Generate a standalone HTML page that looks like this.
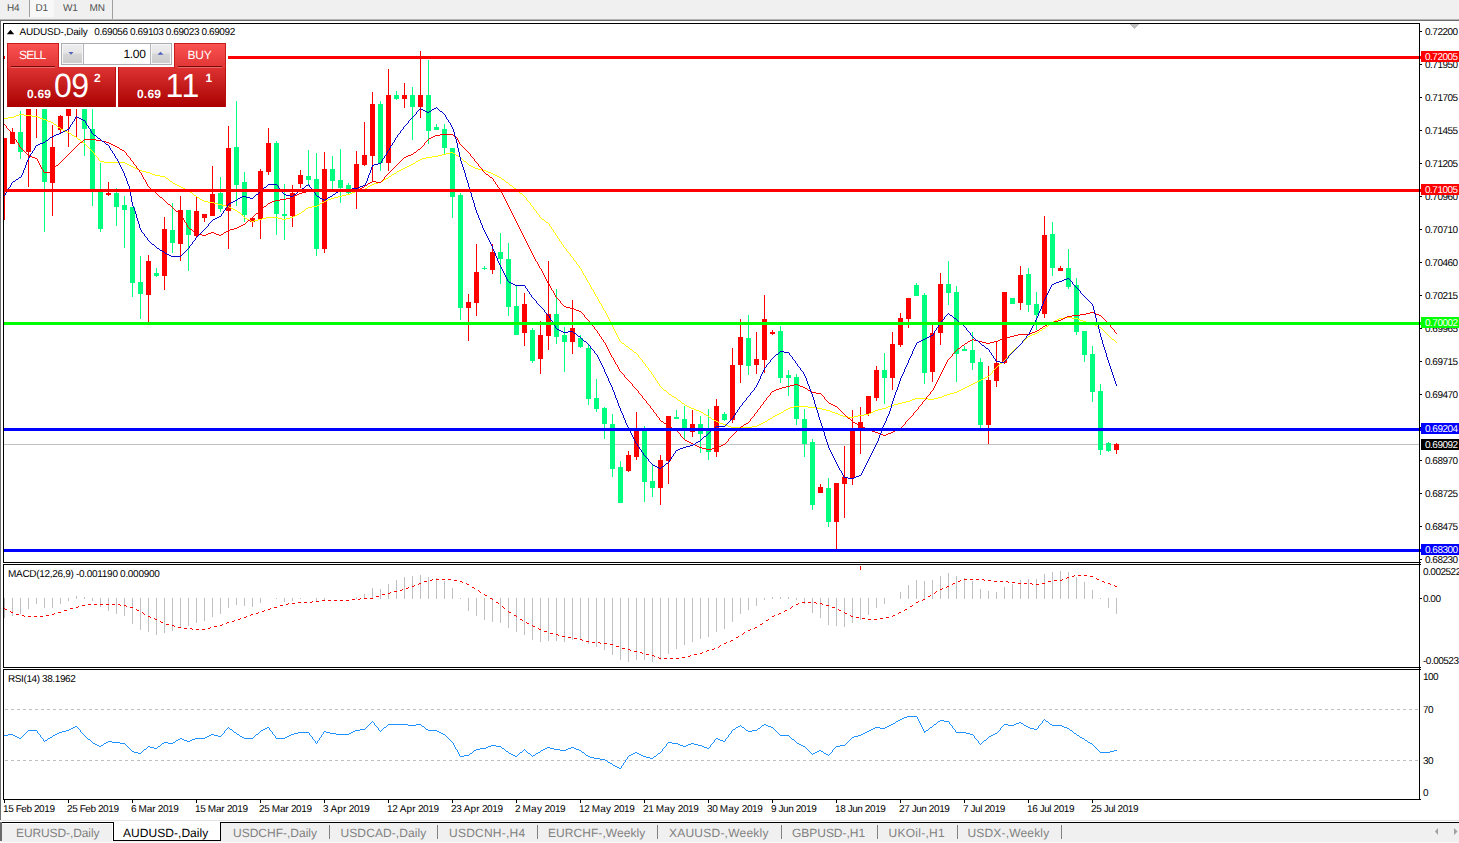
<!DOCTYPE html>
<html><head><meta charset="utf-8"><title>AUDUSD-,Daily</title>
<style>
html,body{margin:0;padding:0;background:#fff;}
body{width:1459px;height:843px;position:relative;overflow:hidden;font-family:"Liberation Sans",sans-serif;}
.t{position:absolute;white-space:nowrap;font-family:"Liberation Sans",sans-serif;text-rendering:geometricPrecision;}
#tp .pr{position:absolute;background:linear-gradient(#df3333,#c01818 55%,#ac0000);box-shadow:inset 1px 0 0 #b81010,inset -1px 0 0 #b81010;}
#tp .bt{position:absolute;background:linear-gradient(#fb5252,#e13535);box-shadow:inset 1px 0 0 #c61c1c,inset -1px 0 0 #c61c1c,inset 0 1px 0 #c61c1c;}
#tp .ul{position:absolute;height:1px;background:#7a0808;box-shadow:0 1px 0 #e86a6a;}
#tp .sp{position:absolute;background:linear-gradient(#eeeeee,#e6e6e6 45%,#d6d6d6 50%,#cccccc);box-shadow:inset 0 0 0 1px #f6f6f6;}
#tp .big{font-size:32px;line-height:40px;color:#fff;letter-spacing:-0.5px;transform:scaleY(1.05);transform-origin:50% 60%;}
</style></head>
<body>
<div style="position:absolute;left:0;top:0;width:1459px;height:19px;background:#f0f0f0"></div><div style="position:absolute;left:0;top:19px;width:1459px;height:1px;background:#b4b4b4"></div><div style="position:absolute;left:0;top:20px;width:1459px;height:1px;background:#6e6e6e"></div><div style="position:absolute;left:0;top:20px;width:1px;height:801px;background:#6e6e6e"></div><div style="position:absolute;left:30px;top:0;width:24px;height:17px;background:#f8f8f8"></div><div style="position:absolute;left:29px;top:0;width:1px;height:17px;background:#a0a0a0"></div><div style="position:absolute;left:112px;top:0;width:1px;height:19px;background:#a0a0a0"></div><div class="t" style="left:7px;top:3.5px;font-size:10px;line-height:10px;color:#505050;letter-spacing:-0.2px">H4</div><div class="t" style="left:35.5px;top:3.5px;font-size:10px;line-height:10px;color:#505050;letter-spacing:-0.2px">D1</div><div class="t" style="left:63px;top:3.5px;font-size:10px;line-height:10px;color:#505050;letter-spacing:-0.2px">W1</div><div class="t" style="left:89.5px;top:3.5px;font-size:10px;line-height:10px;color:#505050;letter-spacing:-0.2px">MN</div>
<svg width="1459" height="843" style="position:absolute;left:0;top:0" shape-rendering="crispEdges">
<defs><clipPath id="cm"><rect x="4" y="24" width="1415" height="538"/></clipPath></defs>
<rect x="4" y="444" width="1415" height="1" fill="#c0c0c0"/>
<g clip-path="url(#cm)">
<rect x="4" y="138" width="1" height="82" fill="#ff0000"/>
<rect x="2" y="138" width="5" height="53" fill="#ff0000"/>
<rect x="12" y="128" width="1" height="16" fill="#ff0000"/>
<rect x="10" y="132" width="5" height="12" fill="#ff0000"/>
<rect x="20" y="111" width="1" height="48" fill="#00ff7f"/>
<rect x="18" y="132" width="5" height="20" fill="#00ff7f"/>
<rect x="28" y="100" width="1" height="87" fill="#ff0000"/>
<rect x="26" y="100" width="5" height="52" fill="#ff0000"/>
<rect x="36" y="96" width="1" height="42" fill="#ff0000"/>
<rect x="34" y="96" width="5" height="10" fill="#ff0000"/>
<rect x="44" y="100" width="1" height="132" fill="#00ff7f"/>
<rect x="42" y="100" width="5" height="82" fill="#00ff7f"/>
<rect x="52" y="125" width="1" height="91" fill="#ff0000"/>
<rect x="50" y="147" width="5" height="36" fill="#ff0000"/>
<rect x="60" y="115" width="1" height="19" fill="#ff0000"/>
<rect x="58" y="116" width="5" height="14" fill="#ff0000"/>
<rect x="68" y="100" width="1" height="47" fill="#ff0000"/>
<rect x="66" y="100" width="5" height="16" fill="#ff0000"/>
<rect x="76" y="96" width="1" height="41" fill="#ff0000"/>
<rect x="74" y="96" width="5" height="10" fill="#ff0000"/>
<rect x="84" y="100" width="1" height="56" fill="#00ff7f"/>
<rect x="82" y="100" width="5" height="29" fill="#00ff7f"/>
<rect x="92" y="100" width="1" height="106" fill="#00ff7f"/>
<rect x="90" y="129" width="5" height="60" fill="#00ff7f"/>
<rect x="100" y="163" width="1" height="69" fill="#00ff7f"/>
<rect x="98" y="192" width="5" height="37" fill="#00ff7f"/>
<rect x="108" y="182" width="1" height="14" fill="#ff0000"/>
<rect x="106" y="193" width="5" height="2" fill="#ff0000"/>
<rect x="116" y="188" width="1" height="38" fill="#00ff7f"/>
<rect x="114" y="193" width="5" height="14" fill="#00ff7f"/>
<rect x="124" y="196" width="1" height="52" fill="#00ff7f"/>
<rect x="122" y="205" width="5" height="5" fill="#00ff7f"/>
<rect x="132" y="207" width="1" height="90" fill="#00ff7f"/>
<rect x="130" y="207" width="5" height="76" fill="#00ff7f"/>
<rect x="140" y="256" width="1" height="63" fill="#00ff7f"/>
<rect x="138" y="282" width="5" height="12" fill="#00ff7f"/>
<rect x="148" y="255" width="1" height="67" fill="#ff0000"/>
<rect x="146" y="261" width="5" height="34" fill="#ff0000"/>
<rect x="156" y="268" width="1" height="9" fill="#00ff7f"/>
<rect x="154" y="273" width="5" height="3" fill="#00ff7f"/>
<rect x="164" y="217" width="1" height="73" fill="#ff0000"/>
<rect x="162" y="229" width="5" height="47" fill="#ff0000"/>
<rect x="172" y="203" width="1" height="50" fill="#00ff7f"/>
<rect x="170" y="230" width="5" height="13" fill="#00ff7f"/>
<rect x="180" y="196" width="1" height="65" fill="#ff0000"/>
<rect x="178" y="210" width="5" height="34" fill="#ff0000"/>
<rect x="188" y="210" width="1" height="61" fill="#00ff7f"/>
<rect x="186" y="210" width="5" height="25" fill="#00ff7f"/>
<rect x="196" y="196" width="1" height="42" fill="#ff0000"/>
<rect x="194" y="211" width="5" height="25" fill="#ff0000"/>
<rect x="204" y="214" width="1" height="8" fill="#ff0000"/>
<rect x="202" y="214" width="5" height="4" fill="#ff0000"/>
<rect x="212" y="166" width="1" height="50" fill="#ff0000"/>
<rect x="210" y="194" width="5" height="22" fill="#ff0000"/>
<rect x="220" y="177" width="1" height="35" fill="#00ff7f"/>
<rect x="218" y="193" width="5" height="16" fill="#00ff7f"/>
<rect x="228" y="126" width="1" height="123" fill="#ff0000"/>
<rect x="226" y="148" width="5" height="63" fill="#ff0000"/>
<rect x="236" y="101" width="1" height="105" fill="#00ff7f"/>
<rect x="234" y="147" width="5" height="38" fill="#00ff7f"/>
<rect x="244" y="172" width="1" height="50" fill="#00ff7f"/>
<rect x="242" y="182" width="5" height="33" fill="#00ff7f"/>
<rect x="252" y="217" width="1" height="10" fill="#ff0000"/>
<rect x="250" y="218" width="5" height="4" fill="#ff0000"/>
<rect x="260" y="169" width="1" height="70" fill="#ff0000"/>
<rect x="258" y="171" width="5" height="48" fill="#ff0000"/>
<rect x="268" y="128" width="1" height="47" fill="#ff0000"/>
<rect x="266" y="143" width="5" height="29" fill="#ff0000"/>
<rect x="276" y="141" width="1" height="94" fill="#00ff7f"/>
<rect x="274" y="143" width="5" height="71" fill="#00ff7f"/>
<rect x="284" y="184" width="1" height="56" fill="#00ff7f"/>
<rect x="282" y="214" width="5" height="2" fill="#00ff7f"/>
<rect x="292" y="185" width="1" height="42" fill="#ff0000"/>
<rect x="290" y="193" width="5" height="23" fill="#ff0000"/>
<rect x="300" y="170" width="1" height="18" fill="#ff0000"/>
<rect x="298" y="175" width="5" height="9" fill="#ff0000"/>
<rect x="308" y="150" width="1" height="36" fill="#00ff7f"/>
<rect x="306" y="176" width="5" height="4" fill="#00ff7f"/>
<rect x="316" y="153" width="1" height="103" fill="#00ff7f"/>
<rect x="314" y="179" width="5" height="70" fill="#00ff7f"/>
<rect x="324" y="152" width="1" height="101" fill="#ff0000"/>
<rect x="322" y="169" width="5" height="80" fill="#ff0000"/>
<rect x="332" y="156" width="1" height="34" fill="#00ff7f"/>
<rect x="330" y="169" width="5" height="12" fill="#00ff7f"/>
<rect x="340" y="149" width="1" height="54" fill="#00ff7f"/>
<rect x="338" y="180" width="5" height="8" fill="#00ff7f"/>
<rect x="348" y="183" width="1" height="11" fill="#00ff7f"/>
<rect x="346" y="185" width="5" height="8" fill="#00ff7f"/>
<rect x="356" y="151" width="1" height="58" fill="#ff0000"/>
<rect x="354" y="164" width="5" height="26" fill="#ff0000"/>
<rect x="364" y="122" width="1" height="44" fill="#ff0000"/>
<rect x="362" y="155" width="5" height="10" fill="#ff0000"/>
<rect x="372" y="92" width="1" height="89" fill="#ff0000"/>
<rect x="370" y="104" width="5" height="52" fill="#ff0000"/>
<rect x="380" y="101" width="1" height="70" fill="#00ff7f"/>
<rect x="378" y="104" width="5" height="59" fill="#00ff7f"/>
<rect x="388" y="69" width="1" height="102" fill="#ff0000"/>
<rect x="386" y="95" width="5" height="68" fill="#ff0000"/>
<rect x="396" y="91" width="1" height="9" fill="#00ff7f"/>
<rect x="394" y="95" width="5" height="4" fill="#00ff7f"/>
<rect x="404" y="83" width="1" height="25" fill="#ff0000"/>
<rect x="402" y="95" width="5" height="4" fill="#ff0000"/>
<rect x="412" y="87" width="1" height="53" fill="#00ff7f"/>
<rect x="410" y="95" width="5" height="12" fill="#00ff7f"/>
<rect x="420" y="51" width="1" height="67" fill="#ff0000"/>
<rect x="418" y="95" width="5" height="12" fill="#ff0000"/>
<rect x="428" y="60" width="1" height="84" fill="#00ff7f"/>
<rect x="426" y="95" width="5" height="36" fill="#00ff7f"/>
<rect x="436" y="124" width="1" height="6" fill="#00ff7f"/>
<rect x="434" y="127" width="5" height="3" fill="#00ff7f"/>
<rect x="444" y="124" width="1" height="31" fill="#00ff7f"/>
<rect x="442" y="129" width="5" height="19" fill="#00ff7f"/>
<rect x="452" y="148" width="1" height="70" fill="#00ff7f"/>
<rect x="450" y="148" width="5" height="49" fill="#00ff7f"/>
<rect x="460" y="193" width="1" height="127" fill="#00ff7f"/>
<rect x="458" y="195" width="5" height="113" fill="#00ff7f"/>
<rect x="468" y="294" width="1" height="47" fill="#ff0000"/>
<rect x="466" y="302" width="5" height="6" fill="#ff0000"/>
<rect x="476" y="244" width="1" height="72" fill="#ff0000"/>
<rect x="474" y="272" width="5" height="31" fill="#ff0000"/>
<rect x="484" y="266" width="1" height="4" fill="#00ff7f"/>
<rect x="482" y="268" width="5" height="1" fill="#00ff7f"/>
<rect x="492" y="244" width="1" height="30" fill="#ff0000"/>
<rect x="490" y="252" width="5" height="18" fill="#ff0000"/>
<rect x="500" y="233" width="1" height="51" fill="#00ff7f"/>
<rect x="498" y="252" width="5" height="7" fill="#00ff7f"/>
<rect x="508" y="243" width="1" height="73" fill="#00ff7f"/>
<rect x="506" y="259" width="5" height="48" fill="#00ff7f"/>
<rect x="516" y="285" width="1" height="50" fill="#00ff7f"/>
<rect x="514" y="306" width="5" height="29" fill="#00ff7f"/>
<rect x="524" y="293" width="1" height="53" fill="#ff0000"/>
<rect x="522" y="304" width="5" height="29" fill="#ff0000"/>
<rect x="532" y="328" width="1" height="35" fill="#00ff7f"/>
<rect x="530" y="330" width="5" height="31" fill="#00ff7f"/>
<rect x="540" y="321" width="1" height="53" fill="#ff0000"/>
<rect x="538" y="335" width="5" height="24" fill="#ff0000"/>
<rect x="548" y="261" width="1" height="89" fill="#ff0000"/>
<rect x="546" y="314" width="5" height="22" fill="#ff0000"/>
<rect x="556" y="289" width="1" height="55" fill="#00ff7f"/>
<rect x="554" y="314" width="5" height="23" fill="#00ff7f"/>
<rect x="564" y="327" width="1" height="45" fill="#00ff7f"/>
<rect x="562" y="335" width="5" height="7" fill="#00ff7f"/>
<rect x="572" y="300" width="1" height="54" fill="#ff0000"/>
<rect x="570" y="328" width="5" height="14" fill="#ff0000"/>
<rect x="580" y="335" width="1" height="13" fill="#00ff7f"/>
<rect x="578" y="338" width="5" height="9" fill="#00ff7f"/>
<rect x="588" y="345" width="1" height="60" fill="#00ff7f"/>
<rect x="586" y="348" width="5" height="51" fill="#00ff7f"/>
<rect x="596" y="379" width="1" height="33" fill="#00ff7f"/>
<rect x="594" y="398" width="5" height="11" fill="#00ff7f"/>
<rect x="604" y="407" width="1" height="32" fill="#00ff7f"/>
<rect x="602" y="408" width="5" height="16" fill="#00ff7f"/>
<rect x="612" y="414" width="1" height="63" fill="#00ff7f"/>
<rect x="610" y="424" width="5" height="45" fill="#00ff7f"/>
<rect x="620" y="461" width="1" height="42" fill="#00ff7f"/>
<rect x="618" y="467" width="5" height="36" fill="#00ff7f"/>
<rect x="628" y="451" width="1" height="21" fill="#ff0000"/>
<rect x="626" y="455" width="5" height="16" fill="#ff0000"/>
<rect x="636" y="412" width="1" height="48" fill="#ff0000"/>
<rect x="634" y="430" width="5" height="27" fill="#ff0000"/>
<rect x="644" y="426" width="1" height="76" fill="#00ff7f"/>
<rect x="642" y="429" width="5" height="53" fill="#00ff7f"/>
<rect x="652" y="465" width="1" height="32" fill="#00ff7f"/>
<rect x="650" y="481" width="5" height="7" fill="#00ff7f"/>
<rect x="660" y="455" width="1" height="50" fill="#ff0000"/>
<rect x="658" y="460" width="5" height="28" fill="#ff0000"/>
<rect x="668" y="416" width="1" height="68" fill="#ff0000"/>
<rect x="666" y="416" width="5" height="45" fill="#ff0000"/>
<rect x="676" y="410" width="1" height="9" fill="#00ff7f"/>
<rect x="674" y="417" width="5" height="2" fill="#00ff7f"/>
<rect x="684" y="406" width="1" height="34" fill="#00ff7f"/>
<rect x="682" y="419" width="5" height="12" fill="#00ff7f"/>
<rect x="692" y="410" width="1" height="27" fill="#ff0000"/>
<rect x="690" y="424" width="5" height="8" fill="#ff0000"/>
<rect x="700" y="416" width="1" height="37" fill="#00ff7f"/>
<rect x="698" y="424" width="5" height="10" fill="#00ff7f"/>
<rect x="708" y="409" width="1" height="51" fill="#00ff7f"/>
<rect x="706" y="429" width="5" height="23" fill="#00ff7f"/>
<rect x="716" y="399" width="1" height="58" fill="#ff0000"/>
<rect x="714" y="406" width="5" height="46" fill="#ff0000"/>
<rect x="724" y="412" width="1" height="9" fill="#00ff7f"/>
<rect x="722" y="414" width="5" height="6" fill="#00ff7f"/>
<rect x="732" y="348" width="1" height="75" fill="#ff0000"/>
<rect x="730" y="365" width="5" height="55" fill="#ff0000"/>
<rect x="740" y="319" width="1" height="64" fill="#ff0000"/>
<rect x="738" y="337" width="5" height="28" fill="#ff0000"/>
<rect x="748" y="315" width="1" height="60" fill="#00ff7f"/>
<rect x="746" y="338" width="5" height="28" fill="#00ff7f"/>
<rect x="756" y="332" width="1" height="42" fill="#ff0000"/>
<rect x="754" y="359" width="5" height="6" fill="#ff0000"/>
<rect x="764" y="295" width="1" height="78" fill="#ff0000"/>
<rect x="762" y="319" width="5" height="41" fill="#ff0000"/>
<rect x="772" y="330" width="1" height="5" fill="#ff0000"/>
<rect x="770" y="332" width="5" height="2" fill="#ff0000"/>
<rect x="780" y="326" width="1" height="57" fill="#00ff7f"/>
<rect x="778" y="331" width="5" height="47" fill="#00ff7f"/>
<rect x="788" y="370" width="1" height="26" fill="#00ff7f"/>
<rect x="786" y="375" width="5" height="3" fill="#00ff7f"/>
<rect x="796" y="374" width="1" height="51" fill="#00ff7f"/>
<rect x="794" y="377" width="5" height="42" fill="#00ff7f"/>
<rect x="804" y="409" width="1" height="48" fill="#00ff7f"/>
<rect x="802" y="419" width="5" height="25" fill="#00ff7f"/>
<rect x="812" y="439" width="1" height="71" fill="#00ff7f"/>
<rect x="810" y="442" width="5" height="63" fill="#00ff7f"/>
<rect x="820" y="484" width="1" height="9" fill="#ff0000"/>
<rect x="818" y="487" width="5" height="6" fill="#ff0000"/>
<rect x="828" y="478" width="1" height="49" fill="#00ff7f"/>
<rect x="826" y="488" width="5" height="34" fill="#00ff7f"/>
<rect x="836" y="483" width="1" height="66" fill="#ff0000"/>
<rect x="834" y="483" width="5" height="39" fill="#ff0000"/>
<rect x="844" y="446" width="1" height="72" fill="#ff0000"/>
<rect x="842" y="477" width="5" height="7" fill="#ff0000"/>
<rect x="852" y="410" width="1" height="75" fill="#ff0000"/>
<rect x="850" y="429" width="5" height="49" fill="#ff0000"/>
<rect x="860" y="407" width="1" height="47" fill="#ff0000"/>
<rect x="858" y="422" width="5" height="8" fill="#ff0000"/>
<rect x="868" y="396" width="1" height="20" fill="#ff0000"/>
<rect x="866" y="396" width="5" height="18" fill="#ff0000"/>
<rect x="876" y="366" width="1" height="35" fill="#ff0000"/>
<rect x="874" y="370" width="5" height="28" fill="#ff0000"/>
<rect x="884" y="353" width="1" height="51" fill="#00ff7f"/>
<rect x="882" y="370" width="5" height="8" fill="#00ff7f"/>
<rect x="892" y="332" width="1" height="58" fill="#ff0000"/>
<rect x="890" y="344" width="5" height="34" fill="#ff0000"/>
<rect x="900" y="313" width="1" height="34" fill="#ff0000"/>
<rect x="898" y="318" width="5" height="27" fill="#ff0000"/>
<rect x="908" y="298" width="1" height="30" fill="#ff0000"/>
<rect x="906" y="298" width="5" height="21" fill="#ff0000"/>
<rect x="916" y="283" width="1" height="13" fill="#00ff7f"/>
<rect x="914" y="285" width="5" height="11" fill="#00ff7f"/>
<rect x="924" y="293" width="1" height="91" fill="#00ff7f"/>
<rect x="922" y="295" width="5" height="78" fill="#00ff7f"/>
<rect x="932" y="325" width="1" height="57" fill="#ff0000"/>
<rect x="930" y="333" width="5" height="39" fill="#ff0000"/>
<rect x="940" y="273" width="1" height="72" fill="#ff0000"/>
<rect x="938" y="284" width="5" height="49" fill="#ff0000"/>
<rect x="948" y="261" width="1" height="44" fill="#00ff7f"/>
<rect x="946" y="284" width="5" height="9" fill="#00ff7f"/>
<rect x="956" y="286" width="1" height="96" fill="#00ff7f"/>
<rect x="954" y="292" width="5" height="62" fill="#00ff7f"/>
<rect x="964" y="346" width="1" height="5" fill="#00ff7f"/>
<rect x="962" y="349" width="5" height="2" fill="#00ff7f"/>
<rect x="972" y="332" width="1" height="38" fill="#00ff7f"/>
<rect x="970" y="350" width="5" height="13" fill="#00ff7f"/>
<rect x="980" y="358" width="1" height="70" fill="#00ff7f"/>
<rect x="978" y="362" width="5" height="63" fill="#00ff7f"/>
<rect x="988" y="366" width="1" height="78" fill="#ff0000"/>
<rect x="986" y="380" width="5" height="45" fill="#ff0000"/>
<rect x="996" y="341" width="1" height="46" fill="#ff0000"/>
<rect x="994" y="363" width="5" height="18" fill="#ff0000"/>
<rect x="1004" y="292" width="1" height="72" fill="#ff0000"/>
<rect x="1002" y="292" width="5" height="71" fill="#ff0000"/>
<rect x="1012" y="298" width="1" height="6" fill="#00ff7f"/>
<rect x="1010" y="298" width="5" height="6" fill="#00ff7f"/>
<rect x="1020" y="266" width="1" height="44" fill="#ff0000"/>
<rect x="1018" y="275" width="5" height="28" fill="#ff0000"/>
<rect x="1028" y="268" width="1" height="44" fill="#00ff7f"/>
<rect x="1026" y="274" width="5" height="31" fill="#00ff7f"/>
<rect x="1036" y="292" width="1" height="38" fill="#00ff7f"/>
<rect x="1034" y="304" width="5" height="11" fill="#00ff7f"/>
<rect x="1044" y="216" width="1" height="102" fill="#ff0000"/>
<rect x="1042" y="235" width="5" height="79" fill="#ff0000"/>
<rect x="1052" y="222" width="1" height="54" fill="#00ff7f"/>
<rect x="1050" y="234" width="5" height="34" fill="#00ff7f"/>
<rect x="1060" y="266" width="1" height="5" fill="#ff0000"/>
<rect x="1058" y="268" width="5" height="3" fill="#ff0000"/>
<rect x="1068" y="249" width="1" height="40" fill="#00ff7f"/>
<rect x="1066" y="268" width="5" height="19" fill="#00ff7f"/>
<rect x="1076" y="278" width="1" height="57" fill="#00ff7f"/>
<rect x="1074" y="285" width="5" height="47" fill="#00ff7f"/>
<rect x="1084" y="331" width="1" height="31" fill="#00ff7f"/>
<rect x="1082" y="331" width="5" height="24" fill="#00ff7f"/>
<rect x="1092" y="346" width="1" height="56" fill="#00ff7f"/>
<rect x="1090" y="354" width="5" height="38" fill="#00ff7f"/>
<rect x="1100" y="384" width="1" height="71" fill="#00ff7f"/>
<rect x="1098" y="391" width="5" height="59" fill="#00ff7f"/>
<rect x="1108" y="442" width="1" height="10" fill="#00ff7f"/>
<rect x="1106" y="443" width="5" height="8" fill="#00ff7f"/>
<rect x="1116" y="443" width="1" height="11" fill="#ff0000"/>
<rect x="1114" y="444" width="5" height="6" fill="#ff0000"/>
</g>
<g clip-path="url(#cm)">
<path d="M4 118.5h4M8 117.5h6M14 116.5h2M16 115.5h3M19 114.5h5M24 115.5h8M32 116.5h6M38 117.5h2M40 118.5h3M43 119.5h3M46 120.5h2M48 121.5h3M51 122.5h2M53 123.5h1M54 124.5h2M56 125.5h1M57 126.5h1M58 127.5h2M60 128.5h1M61 129.5h2M63 130.5h2M65 131.5h2M67 132.5h2M69 133.5h2M71 134.5h1M72 135.5h2M74 136.5h2M76 137.5h1M77 138.5h1M78 139.5h2M80 140.5h1M81 141.5h1M82 142.5h2M84 143.5h1M85 144.5h1M86 145.5h1M87 146.5h1M88 147.5h1M89 148.5h1M90 149.5h1M91 150.5h1M92 151.5h1M93 152.5h1M94.5 153v2M95 155.5h1M96 156.5h1M97 157.5h1M98.5 158v2M99 160.5h1M100 161.5h4M104 162.5h21M125 163.5h2M127 164.5h2M129 165.5h2M131 166.5h2M133 167.5h2M135 168.5h2M137 169.5h2M139 170.5h3M142 171.5h4M146 172.5h4M150 173.5h2M152 174.5h3M155 175.5h5M160 176.5h5M165 177.5h1M166 178.5h2M168 179.5h1M169 180.5h1M170 181.5h2M172 182.5h1M173 183.5h2M175 184.5h2M177 185.5h2M179 186.5h2M181 187.5h2M183 188.5h2M185 189.5h2M187 190.5h2M189 191.5h1M190 192.5h2M192 193.5h1M193 194.5h1M194 195.5h2M196 196.5h1M197 197.5h2M199 198.5h1M200 199.5h2M202 200.5h2M204 201.5h4M208 202.5h6M214 203.5h4M218 204.5h4M222 205.5h4M226 206.5h3M229 207.5h2M231 208.5h2M233 209.5h2M235 210.5h2M237 211.5h1M238 212.5h2M240 213.5h1M241 214.5h1M242 215.5h1M243 216.5h1M244 217.5h1M245 218.5h2M247 219.5h2M249 220.5h2M251 221.5h3M254 220.5h4M258 219.5h4M262 218.5h4M266 217.5h12M278 218.5h4M282 219.5h4M286 218.5h4M290 217.5h3M293 216.5h2M295 215.5h2M297 214.5h2M299 213.5h2M301 212.5h1M302 211.5h2M304 210.5h1M305 209.5h1M306 208.5h2M308 207.5h4M312 206.5h5M317 205.5h2M319 204.5h1M320 203.5h2M322 202.5h2M324 201.5h2M326 200.5h2M328 199.5h3M331 198.5h3M334 197.5h4M338 196.5h4M342 195.5h4M346 194.5h4M350 193.5h2M352 192.5h3M355 191.5h3M358 190.5h4M362 189.5h3M365 188.5h2M367 187.5h1M368 186.5h2M370 185.5h2M372 184.5h2M374 183.5h4M378 182.5h3M381 181.5h2M383 180.5h1M384 179.5h2M386 178.5h2M388 177.5h1M389 176.5h2M391 175.5h1M392 174.5h2M394 173.5h2M396 172.5h1M397 171.5h2M399 170.5h2M401 169.5h2M403 168.5h2M405 167.5h2M407 166.5h2M409 165.5h2M411 164.5h2M413 163.5h2M415 162.5h1M416 161.5h2M418 160.5h2M420 159.5h2M422 158.5h4M426 157.5h6M432 156.5h6M438 155.5h4M442 154.5h4M446 153.5h4M450 152.5h3M453 153.5h2M455 154.5h1M456 155.5h2M458 156.5h2M460 157.5h1M461 158.5h1M462 159.5h1M463 160.5h1M464 161.5h2M466 162.5h1M467 163.5h1M468 164.5h1M469 165.5h2M471 166.5h2M473 167.5h2M475 168.5h3M478 169.5h4M482 170.5h4M486 171.5h2M488 172.5h3M491 173.5h2M493 174.5h2M495 175.5h2M497 176.5h2M499 177.5h2M501 178.5h1M502 179.5h2M504 180.5h1M505 181.5h1M506 182.5h2M508 183.5h1M509 184.5h1M510 185.5h2M512 186.5h1M513 187.5h1M514 188.5h2M516 189.5h1M517 190.5h1M518 191.5h1M519 192.5h1M520 193.5h2M522 194.5h1M523 195.5h1M524 196.5h1M525 197.5h1M526.5 198v2M527 200.5h1M528 201.5h1M529 202.5h1M530.5 203v2M531 205.5h1M532 206.5h1M533.5 207v2M534 209.5h1M535 210.5h1M536.5 211v2M537 213.5h1M538 214.5h1M539.5 215v2M540 217.5h1M541 218.5h1M542 219.5h2M544 220.5h1M545 221.5h1M546 222.5h2M548 223.5h1M549.5 224v2M550 226.5h1M551.5 227v2M552 229.5h1M553.5 230v2M554 232.5h1M555.5 233v2M556 235.5h1M557.5 236v2M558 238.5h1M559.5 239v2M560 241.5h1M561.5 242v2M562 244.5h1M563.5 245v2M564 247.5h1M565 248.5h1M566.5 249v2M567 251.5h1M568 252.5h1M569 253.5h1M570.5 254v2M571 256.5h1M572 257.5h1M573.5 258v2M574 260.5h1M575 261.5h1M576.5 262v2M577 264.5h1M578 265.5h1M579.5 266v2M580 268.5h1M581.5 269v2M582.5 271v2M583.5 273v2M584 275.5h1M585.5 276v2M586.5 278v2M587.5 280v2M588 282.5h1M589.5 283v2M590.5 285v2M591.5 287v2M592 289.5h1M593.5 290v2M594.5 292v2M595.5 294v2M596 296.5h1M597.5 297v2M598.5 299v2M599.5 301v2M600 303.5h1M601.5 304v2M602.5 306v2M603.5 308v2M604 310.5h1M605.5 311v2M606.5 313v2M607.5 315v2M608.5 317v2M609.5 319v2M610.5 321v2M611.5 323v2M612.5 325v2M613.5 327v2M614.5 329v2M615.5 331v2M616.5 333v2M617.5 335v2M618.5 337v2M619.5 339v2M620 341.5h1M621 342.5h1M622 343.5h2M624 344.5h1M625 345.5h1M626 346.5h2M628 347.5h1M629 348.5h1M630 349.5h2M632 350.5h1M633 351.5h1M634 352.5h2M636 353.5h1M637 354.5h1M638.5 355v2M639 357.5h1M640 358.5h1M641 359.5h1M642.5 360v2M643 362.5h1M644 363.5h1M645.5 364v2M646 366.5h1M647 367.5h1M648.5 368v2M649 370.5h1M650 371.5h1M651.5 372v2M652 374.5h1M653.5 375v2M654 377.5h1M655.5 378v2M656 380.5h1M657.5 381v2M658 383.5h1M659.5 384v2M660 386.5h1M661 387.5h1M662 388.5h1M663 389.5h1M664 390.5h2M666 391.5h1M667 392.5h1M668 393.5h1M669 394.5h2M671 395.5h1M672 396.5h2M674 397.5h2M676 398.5h1M677 399.5h1M678 400.5h2M680 401.5h1M681 402.5h1M682 403.5h2M684 404.5h1M685 405.5h2M687 406.5h2M689 407.5h2M691 408.5h3M694 409.5h2M696 410.5h3M699 411.5h2M701 412.5h2M703 413.5h1M704 414.5h2M706 415.5h2M708 416.5h1M709 417.5h2M711 418.5h1M712 419.5h2M714 420.5h2M716 421.5h2M718 422.5h2M720 423.5h3M723 424.5h3M726 425.5h2M728 426.5h3M731 427.5h21M752 426.5h5M757 425.5h2M759 424.5h2M761 423.5h2M763 422.5h2M765 421.5h2M767 420.5h1M768 419.5h2M770 418.5h2M772 417.5h1M773 416.5h2M775 415.5h2M777 414.5h2M779 413.5h2M781 412.5h2M783 411.5h1M784 410.5h2M786 409.5h2M788 408.5h2M790 407.5h4M794 406.5h14M808 407.5h8M816 408.5h6M822 409.5h4M826 410.5h4M830 411.5h2M832 412.5h3M835 413.5h3M838 414.5h2M840 415.5h3M843 416.5h5M848 417.5h6M854 416.5h4M858 415.5h6M864 414.5h5M869 413.5h2M871 412.5h2M873 411.5h2M875 410.5h3M878 409.5h4M882 408.5h4M886 407.5h2M888 406.5h3M891 405.5h3M894 404.5h4M898 403.5h4M902 402.5h4M906 401.5h4M910 400.5h2M912 399.5h3M915 398.5h13M928 399.5h6M934 398.5h4M938 397.5h4M942 396.5h2M944 395.5h3M947 394.5h3M950 393.5h4M954 392.5h3M957 391.5h2M959 390.5h2M961 389.5h2M963 388.5h2M965 387.5h2M967 386.5h2M969 385.5h2M971 384.5h2M973 383.5h2M975 382.5h2M977 381.5h2M979 380.5h2M981 379.5h2M983 378.5h2M985 377.5h2M987 376.5h2M989 375.5h1M990 374.5h1M991 373.5h1M992.5 371v2M993 370.5h1M994 369.5h1M995 368.5h1M996 367.5h1M997 366.5h1M998 365.5h1M999 364.5h1M1000 363.5h2M1002 362.5h1M1003 361.5h1M1004 360.5h1M1005 359.5h1M1006 358.5h1M1007 357.5h1M1008.5 355v2M1009 354.5h1M1010 353.5h1M1011 352.5h1M1012 351.5h1M1013 350.5h1M1014 349.5h1M1015 348.5h1M1016 347.5h2M1018 346.5h1M1019 345.5h1M1020 344.5h1M1021 343.5h1M1022 342.5h1M1023 341.5h1M1024 340.5h1M1025 339.5h1M1026 338.5h1M1027 337.5h1M1028 336.5h2M1030 335.5h2M1032 334.5h3M1035 333.5h2M1037 332.5h2M1039 331.5h1M1040 330.5h2M1042 329.5h1M1043 328.5h2M1045 327.5h1M1046 326.5h2M1048 325.5h1M1049 324.5h1M1050 323.5h2M1052 322.5h1M1053 321.5h2M1055 320.5h2M1057 319.5h2M1059 318.5h5M1064 317.5h8M1072 318.5h6M1078 319.5h2M1080 320.5h3M1083 321.5h3M1086 322.5h4M1090 323.5h3M1093 324.5h2M1095 325.5h2M1097 326.5h2M1099 327.5h2M1101 328.5h1M1102 329.5h1M1103 330.5h1M1104 331.5h1M1105 332.5h1M1106 333.5h1M1107 334.5h1M1108 335.5h1M1109 336.5h1M1110 337.5h1M1111 338.5h1M1112 339.5h2M1114 340.5h1M1115 341.5h1M1116 342.5h1" fill="none" stroke="#ffff00" stroke-width="1"/>
<path d="M4 124.5h1M5 125.5h1M6.5 126v2M7 128.5h1M8 129.5h1M9 130.5h1M10.5 131v2M11 133.5h1M12 134.5h1M13.5 135v2M14.5 137v2M15 139.5h1M16.5 140v2M17 142.5h1M18.5 143v2M19.5 145v2M20 147.5h1M21 148.5h1M22 149.5h1M23 150.5h1M24 151.5h1M25 152.5h1M26 153.5h1M27 154.5h1M28 155.5h2M30 156.5h2M32 157.5h3M35 158.5h2M37.5 159v2M38.5 161v2M39.5 163v2M40.5 165v2M41.5 167v2M42 169.5h1M43.5 170v2M44 172.5h6M50 171.5h1M51 170.5h1M52 169.5h1M53 168.5h1M54 167.5h1M55 166.5h1M56 165.5h2M58 164.5h1M59 163.5h1M60 162.5h1M61 161.5h1M62 160.5h1M63 159.5h1M64 158.5h1M65 157.5h1M66 156.5h1M67 155.5h1M68 154.5h1M69 153.5h1M70 152.5h1M71 151.5h1M72 150.5h1M73 149.5h1M74 148.5h1M75 147.5h1M76 146.5h1M77 145.5h1M78 144.5h1M79 143.5h1M80 142.5h2M82 141.5h1M83 140.5h1M84 139.5h12M96 140.5h6M102 141.5h4M106 142.5h3M109 143.5h2M111 144.5h2M113 145.5h2M115 146.5h2M117 147.5h2M119 148.5h1M120 149.5h2M122 150.5h2M124 151.5h1M125 152.5h1M126.5 153v2M127 155.5h1M128 156.5h1M129 157.5h1M130.5 158v2M131 160.5h1M132 161.5h1M133.5 162v2M134 164.5h1M135 165.5h1M136.5 166v2M137 168.5h1M138 169.5h1M139.5 170v2M140 172.5h1M141.5 173v2M142.5 175v2M143.5 177v2M144 179.5h1M145.5 180v2M146.5 182v2M147.5 184v2M148 186.5h1M149 187.5h1M150 188.5h1M151 189.5h1M152 190.5h2M154 191.5h1M155 192.5h1M156 193.5h1M157 194.5h1M158 195.5h1M159 196.5h1M160 197.5h2M162 198.5h1M163 199.5h1M164 200.5h1M165 201.5h1M166 202.5h1M167 203.5h1M168 204.5h2M170 205.5h1M171 206.5h1M172 207.5h1M173 208.5h1M174 209.5h1M175 210.5h1M176 211.5h2M178 212.5h1M179 213.5h1M180 214.5h1M181.5 215v2M182 217.5h1M183.5 218v2M184.5 220v2M185 222.5h1M186.5 223v2M187.5 225v2M188 227.5h1M189 228.5h1M190 229.5h2M192 230.5h1M193 231.5h1M194 232.5h2M196 233.5h2M198 234.5h4M202 235.5h4M206 234.5h2M208 233.5h3M211 232.5h3M214 233.5h2M216 234.5h3M219 235.5h2M221 234.5h2M223 233.5h1M224 232.5h2M226 231.5h2M228 230.5h2M230 229.5h4M234 228.5h3M237 227.5h2M239 226.5h2M241 225.5h2M243 224.5h2M245 223.5h1M246 222.5h1M247 221.5h1M248 220.5h2M250 219.5h1M251 218.5h1M252 217.5h1M253 216.5h1M254 215.5h1M255 214.5h1M256 213.5h2M258 212.5h1M259 211.5h1M260 210.5h1M261 209.5h1M262 208.5h1M263 207.5h1M264 206.5h2M266 205.5h1M267 204.5h1M268 203.5h2M270 202.5h2M272 201.5h3M275 200.5h5M280 199.5h6M286 198.5h4M290 197.5h3M293 196.5h2M295 195.5h2M297 194.5h2M299 193.5h3M302 192.5h4M306 191.5h51M357 190.5h2M359 189.5h1M360 188.5h2M362 187.5h2M364 186.5h1M365 185.5h2M367 184.5h1M368 183.5h2M370 182.5h2M372 181.5h4M376 182.5h5M381 181.5h1M382 180.5h1M383 179.5h1M384.5 177v2M385 176.5h1M386 175.5h1M387 174.5h1M388 173.5h1M389 172.5h1M390 171.5h1M391 170.5h1M392 169.5h1M393 168.5h1M394 167.5h1M395 166.5h1M396 165.5h1M397 164.5h1M398 163.5h1M399 162.5h1M400 161.5h1M401 160.5h1M402 159.5h1M403 158.5h1M404 157.5h2M406 156.5h2M408 155.5h3M411 154.5h2M413 153.5h1M414 152.5h2M416 151.5h1M417 150.5h1M418 149.5h2M420 148.5h1M421 147.5h1M422 146.5h1M423 145.5h1M424.5 143v2M425 142.5h1M426 141.5h1M427 140.5h1M428 139.5h1M429 138.5h2M431 137.5h2M433 136.5h2M435 135.5h5M440 134.5h13M453 135.5h1M454 136.5h2M456 137.5h1M457.5 138v2M458.5 140v2M459.5 142v2M460 144.5h1M461 145.5h1M462 146.5h1M463 147.5h1M464 148.5h1M465 149.5h1M466 150.5h1M467 151.5h1M468 152.5h1M469 153.5h1M470.5 154v2M471 156.5h1M472 157.5h1M473 158.5h1M474.5 159v2M475 161.5h1M476 162.5h1M477 163.5h1M478.5 164v2M479 166.5h1M480 167.5h1M481 168.5h1M482.5 169v2M483 171.5h1M484 172.5h1M485 173.5h1M486 174.5h2M488 175.5h1M489 176.5h1M490 177.5h2M492 178.5h1M493.5 179v2M494 181.5h1M495.5 182v2M496 184.5h1M497.5 185v2M498 187.5h1M499.5 188v2M500 190.5h1M501.5 191v2M502.5 193v2M503.5 195v2M504.5 197v2M505.5 199v2M506.5 201v2M507.5 203v2M508.5 205v2M509.5 207v2M510.5 209v2M511.5 211v2M512.5 213v2M513.5 215v2M514.5 217v2M515.5 219v2M516.5 221v2M517.5 223v2M518.5 225v2M519.5 227v2M520.5 229v2M521.5 231v2M522.5 233v2M523.5 235v2M524.5 237v2M525.5 239v2M526.5 241v2M527.5 243v2M528.5 245v2M529.5 247v2M530.5 249v2M531.5 251v2M532.5 253v2M533.5 255v2M534.5 257v2M535.5 259v2M536 261.5h1M537.5 262v2M538.5 264v2M539.5 266v2M540 268.5h1M541.5 269v2M542.5 271v2M543.5 273v2M544.5 275v2M545.5 277v2M546.5 279v2M547.5 281v2M548 283.5h1M549.5 284v2M550.5 286v2M551.5 288v2M552 290.5h1M553.5 291v2M554.5 293v2M555.5 295v2M556 297.5h1M557 298.5h1M558 299.5h1M559 300.5h1M560.5 301v2M561 303.5h1M562 304.5h1M563 305.5h1M564 306.5h2M566 307.5h4M570 308.5h4M574 309.5h2M576 310.5h3M579 311.5h2M581 312.5h1M582 313.5h1M583 314.5h1M584.5 315v2M585 317.5h1M586 318.5h1M587 319.5h1M588 320.5h1M589 321.5h1M590.5 322v2M591 324.5h1M592 325.5h1M593 326.5h1M594.5 327v2M595 329.5h1M596 330.5h1M597.5 331v2M598 333.5h1M599.5 334v2M600 336.5h1M601.5 337v2M602 339.5h1M603.5 340v2M604 342.5h1M605.5 343v2M606.5 345v2M607.5 347v2M608.5 349v2M609.5 351v2M610.5 353v2M611.5 355v2M612 357.5h1M613.5 358v2M614.5 360v2M615.5 362v2M616 364.5h1M617.5 365v2M618.5 367v2M619.5 369v2M620 371.5h1M621 372.5h1M622 373.5h1M623 374.5h1M624.5 375v2M625 377.5h1M626 378.5h1M627 379.5h1M628 380.5h1M629 381.5h1M630 382.5h1M631 383.5h1M632.5 384v2M633 386.5h1M634 387.5h1M635 388.5h1M636 389.5h1M637 390.5h1M638.5 391v2M639 393.5h1M640 394.5h1M641 395.5h1M642.5 396v2M643 398.5h1M644 399.5h1M645 400.5h1M646.5 401v2M647 403.5h1M648 404.5h1M649 405.5h1M650.5 406v2M651 408.5h1M652 409.5h1M653.5 410v2M654 412.5h1M655 413.5h1M656.5 414v2M657 416.5h1M658 417.5h1M659.5 418v2M660 420.5h1M661 421.5h2M663 422.5h1M664 423.5h2M666 424.5h2M668 425.5h1M669 426.5h2M671 427.5h1M672 428.5h2M674 429.5h2M676 430.5h1M677 431.5h1M678 432.5h1M679 433.5h1M680.5 434v2M681 436.5h1M682 437.5h1M683 438.5h1M684 439.5h1M685 440.5h2M687 441.5h2M689 442.5h2M691 443.5h2M693 444.5h2M695 445.5h2M697 446.5h2M699 447.5h3M702 448.5h4M706 449.5h6M712 448.5h5M717 447.5h2M719 446.5h2M721 445.5h2M723 444.5h2M725 443.5h1M726 442.5h1M727 441.5h1M728.5 439v2M729 438.5h1M730 437.5h1M731 436.5h1M732 435.5h1M733 434.5h1M734 433.5h1M735 432.5h1M736 431.5h1M737 430.5h1M738 429.5h1M739 428.5h1M740 427.5h1M741 426.5h2M743 425.5h1M744 424.5h2M746 423.5h2M748 422.5h1M749 421.5h1M750.5 419v2M751 418.5h1M752 417.5h1M753 416.5h1M754.5 414v2M755 413.5h1M756 412.5h1M757.5 410v2M758 409.5h1M759 408.5h1M760.5 406v2M761 405.5h1M762 404.5h1M763.5 402v2M764 401.5h1M765 400.5h1M766.5 398v2M767 397.5h1M768 396.5h1M769 395.5h1M770.5 393v2M771 392.5h1M772 391.5h2M774 390.5h2M776 389.5h3M779 388.5h3M782 387.5h4M786 386.5h4M790 385.5h4M794 384.5h4M798 385.5h2M800 386.5h3M803 387.5h2M805 388.5h2M807 389.5h1M808 390.5h2M810 391.5h2M812 392.5h4M816 393.5h5M821 394.5h1M822 395.5h1M823 396.5h1M824.5 397v2M825 399.5h1M826 400.5h1M827 401.5h1M828 402.5h1M829 403.5h2M831 404.5h2M833 405.5h2M835 406.5h2M837 407.5h1M838 408.5h1M839 409.5h1M840 410.5h1M841 411.5h1M842 412.5h1M843 413.5h1M844 414.5h1M845 415.5h1M846 416.5h1M847 417.5h1M848 418.5h2M850 419.5h1M851 420.5h1M852 421.5h1M853 422.5h2M855 423.5h2M857 424.5h2M859 425.5h2M861 426.5h2M863 427.5h2M865 428.5h2M867 429.5h3M870 430.5h2M872 431.5h3M875 432.5h3M878 433.5h2M880 434.5h3M883 435.5h3M886 434.5h2M888 433.5h3M891 432.5h2M893 431.5h2M895 430.5h2M897 429.5h2M899 428.5h2M901 427.5h1M902 426.5h1M903 425.5h1M904 424.5h1M905.5 422v2M906 421.5h1M907 420.5h1M908 419.5h1M909 418.5h1M910 417.5h1M911 416.5h1M912 415.5h1M913.5 413v2M914 412.5h1M915 411.5h1M916 410.5h1M917 409.5h1M918.5 407v2M919 406.5h1M920 405.5h1M921 404.5h1M922.5 402v2M923 401.5h1M924 400.5h1M925 399.5h1M926.5 397v2M927 396.5h1M928 395.5h1M929 394.5h1M930.5 392v2M931 391.5h1M932 390.5h1M933.5 388v2M934.5 386v2M935.5 384v2M936.5 382v2M937.5 380v2M938.5 378v2M939.5 376v2M940.5 374v2M941.5 372v2M942.5 370v2M943.5 368v2M944.5 366v2M945.5 364v2M946.5 362v2M947.5 360v2M948 359.5h1M949 358.5h1M950 357.5h1M951 356.5h1M952.5 354v2M953 353.5h1M954 352.5h1M955 351.5h1M956 350.5h1M957 349.5h1M958 348.5h2M960 347.5h1M961 346.5h1M962 345.5h2M964 344.5h1M965 343.5h2M967 342.5h1M968 341.5h2M970 340.5h2M972 339.5h2M974 340.5h4M978 341.5h4M982 342.5h4M986 343.5h4M990 342.5h4M994 341.5h4M998 340.5h2M1000 339.5h3M1003 338.5h3M1006 337.5h4M1010 336.5h4M1014 335.5h4M1018 334.5h12M1030 333.5h2M1032 332.5h3M1035 331.5h2M1037 330.5h2M1039 329.5h1M1040 328.5h2M1042 327.5h1M1043 326.5h2M1045 325.5h2M1047 324.5h2M1049 323.5h2M1051 322.5h3M1054 321.5h4M1058 320.5h3M1061 319.5h2M1063 318.5h2M1065 317.5h2M1067 316.5h5M1072 315.5h8M1080 314.5h6M1086 313.5h4M1090 312.5h4M1094 313.5h2M1096 314.5h3M1099 315.5h2M1101 316.5h1M1102 317.5h1M1103 318.5h1M1104 319.5h1M1105 320.5h1M1106 321.5h1M1107 322.5h1M1108 323.5h1M1109 324.5h1M1110.5 325v2M1111 327.5h1M1112 328.5h1M1113 329.5h1M1114.5 330v2M1115 332.5h1M1116 333.5h1" fill="none" stroke="#ff0000" stroke-width="1"/>
<path d="M4 195.5h1M5.5 193v2M6.5 191v2M7 190.5h1M8.5 188v2M9 187.5h1M10.5 185v2M11.5 183v2M12 182.5h1M13 181.5h2M15 180.5h1M16 179.5h2M18 178.5h1M19 177.5h2M21.5 175v2M22.5 173v2M23.5 170v3M24.5 168v2M25.5 165v3M26.5 162v3M27.5 160v2M28.5 158v2M29.5 156v2M30.5 154v2M31 153.5h1M32.5 151v2M33 150.5h1M34.5 148v2M35.5 146v2M36 145.5h2M38 144.5h2M40 143.5h3M43 142.5h2M45 141.5h1M46 140.5h2M48 139.5h1M49 138.5h1M50 137.5h2M52 136.5h2M54 135.5h2M56 134.5h3M59 133.5h2M61 132.5h2M63 131.5h2M65 130.5h2M67 129.5h2M69.5 127v2M70.5 125v2M71 124.5h1M72.5 122v2M73 121.5h1M74.5 119v2M75.5 117v2M76 116.5h1M77 117.5h2M79 118.5h2M81 119.5h2M83 120.5h2M85.5 121v2M86.5 123v2M87 125.5h1M88.5 126v2M89 128.5h1M90.5 129v2M91.5 131v2M92 133.5h1M93 134.5h1M94 135.5h2M96 136.5h1M97 137.5h1M98 138.5h2M100 139.5h1M101 140.5h1M102 141.5h2M104 142.5h1M105 143.5h1M106 144.5h2M108 145.5h1M109.5 146v2M110.5 148v2M111 150.5h1M112.5 151v2M113 153.5h1M114.5 154v2M115.5 156v2M116 158.5h1M117.5 159v2M118.5 161v2M119.5 163v2M120.5 165v2M121.5 167v2M122.5 169v2M123.5 171v2M124.5 173v3M125.5 176v2M126.5 178v3M127.5 181v3M128.5 184v2M129.5 186v4M130.5 190v6M131.5 196v6M132.5 202v4M133.5 206v2M134.5 208v3M135.5 211v3M136.5 214v4M137.5 218v3M138.5 221v3M139.5 224v4M140.5 228v2M141.5 230v2M142 232.5h1M143 233.5h1M144.5 234v2M145 236.5h1M146 237.5h1M147.5 238v2M148 240.5h1M149 241.5h1M150 242.5h1M151 243.5h1M152 244.5h2M154 245.5h1M155 246.5h1M156 247.5h1M157 248.5h2M159 249.5h1M160 250.5h2M162 251.5h2M164 252.5h1M165 253.5h2M167 254.5h2M169 255.5h2M171 256.5h10M181 255.5h1M182 254.5h1M183 253.5h1M184 252.5h1M185 251.5h1M186 250.5h1M187 249.5h1M188 248.5h1M189.5 246v2M190 245.5h1M191 244.5h1M192.5 242v2M193 241.5h1M194 240.5h1M195.5 238v2M196 237.5h1M197 236.5h1M198 235.5h1M199 234.5h1M200 233.5h1M201 232.5h1M202 231.5h1M203 230.5h1M204 229.5h1M205 228.5h1M206 227.5h1M207 226.5h1M208.5 224v2M209 223.5h1M210 222.5h1M211 221.5h1M212 220.5h1M213 219.5h2M215 218.5h2M217 217.5h2M219 216.5h2M221.5 214v2M222 213.5h1M223.5 211v2M224 210.5h1M225.5 208v2M226 207.5h1M227.5 205v2M228 204.5h1M229 203.5h2M231 202.5h2M233 201.5h2M235 200.5h2M237 199.5h1M238 198.5h2M240 197.5h2M242 196.5h4M246 197.5h4M250 198.5h3M253 197.5h1M254 196.5h1M255 195.5h1M256 194.5h2M258 193.5h1M259 192.5h1M260 191.5h1M261 190.5h1M262 189.5h1M263 188.5h1M264 187.5h2M266 186.5h1M267 185.5h1M268 184.5h9M277 185.5h1M278.5 186v2M279 188.5h1M280 189.5h1M281 190.5h1M282.5 191v2M283 193.5h1M284 194.5h2M286 195.5h4M290 196.5h3M293 195.5h1M294 194.5h2M296 193.5h1M297 192.5h1M298 191.5h2M300 190.5h1M301 189.5h1M302 188.5h2M304 187.5h1M305 186.5h1M306 185.5h2M308 184.5h1M309.5 185v2M310 187.5h1M311 188.5h1M312.5 189v2M313 191.5h1M314 192.5h1M315.5 193v2M316 195.5h1M317 196.5h2M319 197.5h1M320 198.5h2M322 199.5h2M324 200.5h1M325 199.5h2M327 198.5h1M328 197.5h2M330 196.5h2M332 195.5h1M333 194.5h2M335 193.5h1M336 192.5h2M338 191.5h2M340 190.5h4M344 189.5h8M352 188.5h6M358 187.5h2M360 186.5h3M363 185.5h2M365.5 183v2M366.5 181v2M367.5 178v3M368.5 175v3M369.5 173v2M370.5 170v3M371.5 167v3M372.5 165v2M373 165.5h1M374 164.5h4M378 163.5h3M381.5 161v2M382.5 159v2M383 158.5h1M384.5 156v2M385 155.5h1M386.5 153v2M387.5 151v2M388 150.5h1M389.5 148v2M390.5 146v2M391 145.5h1M392.5 143v2M393 142.5h1M394.5 140v2M395.5 138v2M396 137.5h1M397.5 135v2M398 134.5h1M399 133.5h1M400.5 131v2M401 130.5h1M402 129.5h1M403.5 127v2M404 126.5h1M405 125.5h1M406 124.5h1M407 123.5h1M408.5 121v2M409 120.5h1M410 119.5h1M411 118.5h1M412 117.5h1M413 116.5h1M414 115.5h1M415 114.5h1M416.5 112v2M417 111.5h1M418 110.5h1M419 109.5h1M420 108.5h1M421 109.5h2M423 110.5h2M425 111.5h2M427 112.5h2M429 111.5h2M431 110.5h1M432 109.5h2M434 108.5h2M436 107.5h1M437 108.5h1M438 109.5h1M439 110.5h1M440 111.5h2M442 112.5h1M443 113.5h1M444 114.5h1M445.5 115v2M446.5 117v2M447 119.5h1M448.5 120v2M449 122.5h1M450.5 123v2M451.5 125v2M452.5 127v2M453.5 129v3M454.5 132v4M455.5 136v3M456.5 139v4M457.5 143v5M458.5 148v4M459.5 152v5M460.5 157v4M461.5 161v3M462.5 164v3M463.5 167v3M464.5 170v3M465.5 173v4M466.5 177v3M467.5 180v3M468.5 183v4M469.5 187v3M470.5 190v3M471.5 193v4M472.5 197v3M473.5 200v3M474.5 203v4M475.5 207v3M476.5 210v3M477.5 213v2M478.5 215v3M479.5 218v2M480.5 220v3M481.5 223v2M482.5 225v3M483.5 228v2M484.5 230v2M485.5 232v2M486.5 234v2M487.5 236v2M488.5 238v2M489.5 240v2M490.5 242v2M491.5 244v2M492.5 246v3M493.5 249v2M494.5 251v2M495.5 253v3M496.5 256v2M497.5 258v3M498.5 261v2M499.5 263v2M500.5 265v2M501.5 267v2M502.5 269v2M503.5 271v2M504.5 273v2M505.5 275v2M506.5 277v2M507.5 279v2M508 281.5h1M509 282.5h2M511 283.5h2M513 284.5h2M515 285.5h10M525.5 286v2M526 288.5h1M527.5 289v2M528 291.5h1M529.5 292v2M530 294.5h1M531.5 295v2M532 297.5h1M533 298.5h1M534 299.5h1M535 300.5h1M536.5 301v2M537 303.5h1M538 304.5h1M539 305.5h1M540 306.5h1M541 307.5h1M542 308.5h1M543 309.5h1M544.5 310v2M545 312.5h1M546 313.5h1M547 314.5h1M548 315.5h1M549.5 316v2M550.5 318v2M551 320.5h1M552.5 321v2M553 323.5h1M554.5 324v2M555.5 326v2M556 328.5h1M557 329.5h2M559 330.5h2M561 331.5h2M563 332.5h5M568 331.5h5M573 332.5h1M574 333.5h2M576 334.5h1M577 335.5h1M578 336.5h2M580 337.5h1M581 338.5h1M582 339.5h1M583 340.5h1M584 341.5h2M586 342.5h1M587 343.5h1M588 344.5h1M589 345.5h1M590.5 346v2M591 348.5h1M592 349.5h1M593 350.5h1M594.5 351v2M595 353.5h1M596 354.5h1M597.5 355v2M598.5 357v2M599.5 359v2M600.5 361v2M601.5 363v2M602.5 365v2M603.5 367v2M604.5 369v3M605.5 372v2M606.5 374v2M607.5 376v2M608.5 378v3M609.5 381v2M610.5 383v2M611.5 385v2M612.5 387v3M613.5 390v2M614.5 392v3M615.5 395v3M616.5 398v2M617.5 400v3M618.5 403v3M619.5 406v2M620.5 408v3M621.5 411v2M622.5 413v2M623.5 415v3M624.5 418v2M625.5 420v3M626.5 423v2M627.5 425v2M628.5 427v2M629.5 429v2M630.5 431v2M631.5 433v2M632.5 435v2M633.5 437v2M634.5 439v2M635.5 441v2M636 443.5h1M637.5 444v2M638 446.5h1M639.5 447v2M640 449.5h1M641.5 450v2M642 452.5h1M643.5 453v2M644 455.5h1M645 456.5h1M646 457.5h1M647 458.5h1M648.5 459v2M649 461.5h1M650 462.5h1M651 463.5h1M652 464.5h1M653 465.5h2M655 466.5h2M657 467.5h2M659 468.5h2M661 467.5h1M662 466.5h2M664 465.5h1M665 464.5h1M666 463.5h2M668 462.5h1M669.5 460v2M670 459.5h1M671.5 457v2M672 456.5h1M673.5 454v2M674 453.5h1M675.5 451v2M676 450.5h2M678 449.5h2M680 448.5h3M683 447.5h3M686 446.5h4M690 445.5h3M693 444.5h2M695 443.5h1M696 442.5h2M698 441.5h2M700 440.5h1M701 439.5h1M702 438.5h1M703 437.5h1M704 436.5h2M706 435.5h1M707 434.5h1M708 433.5h1M709 432.5h1M710 431.5h1M711 430.5h1M712 429.5h2M714 428.5h1M715 427.5h1M716 426.5h9M725 425.5h1M726 424.5h1M727 423.5h1M728 422.5h1M729 421.5h1M730 420.5h1M731 419.5h1M732 418.5h1M733.5 416v2M734 415.5h1M735.5 413v2M736 412.5h1M737.5 410v2M738 409.5h1M739.5 407v2M740 406.5h1M741 405.5h1M742.5 403v2M743 402.5h1M744 401.5h1M745 400.5h1M746.5 398v2M747 397.5h1M748 396.5h1M749 395.5h1M750.5 393v2M751 392.5h1M752 391.5h1M753 390.5h1M754.5 388v2M755 387.5h1M756.5 385v2M757.5 383v2M758.5 381v2M759.5 379v2M760.5 376v3M761.5 374v2M762.5 372v2M763.5 370v2M764.5 368v2M765 367.5h1M766.5 365v2M767 364.5h1M768 363.5h1M769 362.5h1M770.5 360v2M771 359.5h1M772 358.5h1M773 357.5h1M774 356.5h1M775 355.5h1M776 354.5h2M778 353.5h1M779 352.5h1M780 351.5h4M784 352.5h5M789.5 353v2M790 355.5h1M791 356.5h1M792.5 357v2M793 359.5h1M794 360.5h1M795.5 361v2M796 363.5h1M797.5 364v2M798 366.5h1M799 367.5h1M800.5 368v2M801 370.5h1M802 371.5h1M803.5 372v2M804.5 374v2M805.5 376v2M806.5 378v3M807.5 381v3M808.5 384v2M809.5 386v3M810.5 389v3M811.5 392v2M812.5 394v3M813.5 397v3M814.5 400v4M815.5 404v3M816.5 407v3M817.5 410v3M818.5 413v4M819.5 417v3M820.5 420v3M821.5 423v3M822.5 426v3M823.5 429v3M824.5 432v4M825.5 436v3M826.5 439v3M827.5 442v3M828.5 445v3M829.5 448v2M830.5 450v2M831.5 452v2M832.5 454v2M833.5 456v2M834.5 458v2M835.5 460v2M836.5 462v2M837.5 464v2M838.5 466v2M839.5 468v2M840 470.5h1M841.5 471v2M842.5 473v2M843.5 475v2M844 477.5h4M848 478.5h6M854 477.5h2M856 476.5h3M859 475.5h2M861.5 473v2M862.5 471v2M863.5 469v2M864.5 467v2M865.5 465v2M866.5 463v2M867.5 461v2M868.5 459v2M869.5 457v2M870.5 455v2M871.5 453v2M872.5 451v2M873.5 449v2M874.5 447v2M875.5 445v2M876.5 443v2M877.5 441v2M878.5 438v3M879.5 435v3M880.5 433v2M881.5 430v3M882.5 427v3M883.5 425v2M884.5 423v2M885.5 421v2M886.5 418v3M887.5 416v2M888.5 414v2M889.5 411v3M890.5 408v3M891.5 404v4M892.5 401v3M893.5 398v3M894.5 395v3M895.5 392v3M896.5 390v2M897.5 387v3M898.5 384v3M899.5 381v3M900.5 378v3M901.5 376v2M902.5 374v2M903.5 372v2M904.5 369v3M905.5 367v2M906.5 365v2M907.5 363v2M908.5 360v3M909.5 358v2M910.5 356v2M911.5 354v2M912.5 351v3M913.5 349v2M914.5 347v2M915.5 345v2M916.5 343v2M917 342.5h2M919 341.5h2M921 340.5h2M923 339.5h2M925 338.5h2M927 337.5h2M929 336.5h2M931 335.5h2M933.5 333v2M934.5 331v2M935 330.5h1M936.5 328v2M937 327.5h1M938.5 325v2M939.5 323v2M940 322.5h1M941 321.5h1M942 320.5h1M943 319.5h1M944.5 317v2M945 316.5h1M946 315.5h1M947 314.5h1M948 313.5h1M949 314.5h1M950 315.5h2M952 316.5h1M953 317.5h1M954 318.5h2M956 319.5h1M957 320.5h1M958 321.5h1M959 322.5h1M960 323.5h2M962 324.5h1M963 325.5h1M964 326.5h1M965 327.5h1M966.5 328v2M967 330.5h1M968 331.5h1M969 332.5h1M970.5 333v2M971 335.5h1M972 336.5h1M973 337.5h1M974 338.5h1M975 339.5h1M976 340.5h2M978 341.5h1M979 342.5h1M980 343.5h1M981 344.5h1M982 345.5h2M984 346.5h1M985 347.5h1M986 348.5h2M988 349.5h1M989.5 350v2M990 352.5h1M991.5 353v2M992 355.5h1M993.5 356v2M994 358.5h1M995.5 359v2M996 361.5h4M1000 362.5h4M1004 361.5h1M1005 360.5h1M1006 359.5h1M1007 358.5h1M1008.5 356v2M1009 355.5h1M1010 354.5h1M1011 353.5h1M1012 352.5h1M1013 351.5h1M1014 350.5h1M1015 349.5h1M1016 348.5h1M1017 347.5h1M1018 346.5h1M1019 345.5h1M1020 344.5h1M1021 343.5h1M1022.5 341v2M1023 340.5h1M1024 339.5h1M1025 338.5h1M1026.5 336v2M1027 335.5h1M1028 334.5h1M1029.5 332v2M1030.5 330v2M1031.5 328v2M1032.5 326v2M1033.5 324v2M1034.5 322v2M1035.5 320v2M1036.5 318v2M1037.5 316v2M1038.5 313v3M1039.5 311v2M1040.5 309v2M1041.5 306v3M1042.5 304v2M1043.5 301v3M1044.5 299v2M1045.5 297v2M1046.5 295v2M1047.5 293v2M1048.5 291v2M1049.5 289v2M1050.5 287v2M1051.5 285v2M1052 284.5h2M1054 283.5h2M1056 282.5h3M1059 281.5h3M1062 280.5h2M1064 279.5h3M1067 278.5h2M1069 279.5h1M1070 280.5h1M1071 281.5h1M1072.5 282v2M1073 284.5h1M1074 285.5h1M1075 286.5h1M1076 287.5h1M1077 288.5h1M1078 289.5h1M1079 290.5h1M1080.5 291v2M1081 293.5h1M1082 294.5h1M1083 295.5h1M1084 296.5h1M1085 297.5h1M1086 298.5h1M1087 299.5h1M1088 300.5h1M1089 301.5h1M1090 302.5h1M1091 303.5h1M1092.5 304v2M1093.5 306v4M1094.5 310v4M1095.5 314v4M1096.5 318v4M1097.5 322v3M1098.5 325v4M1099.5 329v4M1100.5 333v4M1101.5 337v3M1102.5 340v4M1103.5 344v3M1104.5 347v3M1105.5 350v3M1106.5 353v4M1107.5 357v3M1108.5 360v3M1109.5 363v3M1110.5 366v3M1111.5 369v3M1112.5 372v3M1113.5 375v3M1114.5 378v3M1115.5 381v3M1116.5 384v2" fill="none" stroke="#0000cd" stroke-width="1"/>
</g>
<rect x="4" y="56" width="1417" height="3" fill="#ff0000"/>
<rect x="4" y="189" width="1417" height="3" fill="#ff0000"/>
<rect x="4" y="322" width="1417" height="3" fill="#00ff00"/>
<rect x="4" y="428" width="1417" height="3" fill="#0000ff"/>
<rect x="4" y="549" width="1417" height="3" fill="#0000ff"/>
<rect x="4" y="598" width="1" height="20" fill="#c0c0c0"/>
<rect x="12" y="598" width="1" height="18" fill="#c0c0c0"/>
<rect x="20" y="598" width="1" height="16" fill="#c0c0c0"/>
<rect x="28" y="598" width="1" height="11" fill="#c0c0c0"/>
<rect x="36" y="598" width="1" height="6" fill="#c0c0c0"/>
<rect x="44" y="598" width="1" height="10" fill="#c0c0c0"/>
<rect x="52" y="598" width="1" height="10" fill="#c0c0c0"/>
<rect x="60" y="598" width="1" height="6" fill="#c0c0c0"/>
<rect x="68" y="598" width="1" height="3" fill="#c0c0c0"/>
<rect x="76" y="596" width="1" height="3" fill="#c0c0c0"/>
<rect x="84" y="597" width="1" height="2" fill="#c0c0c0"/>
<rect x="92" y="598" width="1" height="3" fill="#c0c0c0"/>
<rect x="100" y="598" width="1" height="9" fill="#c0c0c0"/>
<rect x="108" y="598" width="1" height="13" fill="#c0c0c0"/>
<rect x="116" y="598" width="1" height="16" fill="#c0c0c0"/>
<rect x="124" y="598" width="1" height="18" fill="#c0c0c0"/>
<rect x="132" y="598" width="1" height="26" fill="#c0c0c0"/>
<rect x="140" y="598" width="1" height="32" fill="#c0c0c0"/>
<rect x="148" y="598" width="1" height="34" fill="#c0c0c0"/>
<rect x="156" y="598" width="1" height="37" fill="#c0c0c0"/>
<rect x="164" y="598" width="1" height="35" fill="#c0c0c0"/>
<rect x="172" y="598" width="1" height="33" fill="#c0c0c0"/>
<rect x="180" y="598" width="1" height="30" fill="#c0c0c0"/>
<rect x="188" y="598" width="1" height="28" fill="#c0c0c0"/>
<rect x="196" y="598" width="1" height="25" fill="#c0c0c0"/>
<rect x="204" y="598" width="1" height="23" fill="#c0c0c0"/>
<rect x="212" y="598" width="1" height="19" fill="#c0c0c0"/>
<rect x="220" y="598" width="1" height="16" fill="#c0c0c0"/>
<rect x="228" y="598" width="1" height="10" fill="#c0c0c0"/>
<rect x="236" y="598" width="1" height="7" fill="#c0c0c0"/>
<rect x="244" y="598" width="1" height="8" fill="#c0c0c0"/>
<rect x="252" y="598" width="1" height="9" fill="#c0c0c0"/>
<rect x="260" y="598" width="1" height="5" fill="#c0c0c0"/>
<rect x="276" y="598" width="1" height="1" fill="#c0c0c0"/>
<rect x="284" y="598" width="1" height="4" fill="#c0c0c0"/>
<rect x="292" y="598" width="1" height="3" fill="#c0c0c0"/>
<rect x="300" y="598" width="1" height="1" fill="#c0c0c0"/>
<rect x="316" y="598" width="1" height="3" fill="#c0c0c0"/>
<rect x="324" y="598" width="1" height="2" fill="#c0c0c0"/>
<rect x="356" y="597" width="1" height="2" fill="#c0c0c0"/>
<rect x="364" y="594" width="1" height="5" fill="#c0c0c0"/>
<rect x="372" y="588" width="1" height="11" fill="#c0c0c0"/>
<rect x="380" y="589" width="1" height="10" fill="#c0c0c0"/>
<rect x="388" y="584" width="1" height="15" fill="#c0c0c0"/>
<rect x="396" y="580" width="1" height="19" fill="#c0c0c0"/>
<rect x="404" y="577" width="1" height="22" fill="#c0c0c0"/>
<rect x="412" y="576" width="1" height="23" fill="#c0c0c0"/>
<rect x="420" y="575" width="1" height="24" fill="#c0c0c0"/>
<rect x="428" y="577" width="1" height="22" fill="#c0c0c0"/>
<rect x="436" y="578" width="1" height="21" fill="#c0c0c0"/>
<rect x="444" y="581" width="1" height="18" fill="#c0c0c0"/>
<rect x="452" y="588" width="1" height="11" fill="#c0c0c0"/>
<rect x="460" y="598" width="1" height="1" fill="#c0c0c0"/>
<rect x="468" y="598" width="1" height="13" fill="#c0c0c0"/>
<rect x="476" y="598" width="1" height="18" fill="#c0c0c0"/>
<rect x="484" y="598" width="1" height="22" fill="#c0c0c0"/>
<rect x="492" y="598" width="1" height="24" fill="#c0c0c0"/>
<rect x="500" y="598" width="1" height="25" fill="#c0c0c0"/>
<rect x="508" y="598" width="1" height="30" fill="#c0c0c0"/>
<rect x="516" y="598" width="1" height="34" fill="#c0c0c0"/>
<rect x="524" y="598" width="1" height="37" fill="#c0c0c0"/>
<rect x="532" y="598" width="1" height="42" fill="#c0c0c0"/>
<rect x="540" y="598" width="1" height="44" fill="#c0c0c0"/>
<rect x="548" y="598" width="1" height="43" fill="#c0c0c0"/>
<rect x="556" y="598" width="1" height="43" fill="#c0c0c0"/>
<rect x="564" y="598" width="1" height="44" fill="#c0c0c0"/>
<rect x="572" y="598" width="1" height="42" fill="#c0c0c0"/>
<rect x="580" y="598" width="1" height="42" fill="#c0c0c0"/>
<rect x="588" y="598" width="1" height="46" fill="#c0c0c0"/>
<rect x="596" y="598" width="1" height="49" fill="#c0c0c0"/>
<rect x="604" y="598" width="1" height="52" fill="#c0c0c0"/>
<rect x="612" y="598" width="1" height="57" fill="#c0c0c0"/>
<rect x="620" y="598" width="1" height="62" fill="#c0c0c0"/>
<rect x="628" y="598" width="1" height="64" fill="#c0c0c0"/>
<rect x="636" y="598" width="1" height="62" fill="#c0c0c0"/>
<rect x="644" y="598" width="1" height="62" fill="#c0c0c0"/>
<rect x="652" y="598" width="1" height="64" fill="#c0c0c0"/>
<rect x="660" y="598" width="1" height="62" fill="#c0c0c0"/>
<rect x="668" y="598" width="1" height="56" fill="#c0c0c0"/>
<rect x="676" y="598" width="1" height="51" fill="#c0c0c0"/>
<rect x="684" y="598" width="1" height="47" fill="#c0c0c0"/>
<rect x="692" y="598" width="1" height="44" fill="#c0c0c0"/>
<rect x="700" y="598" width="1" height="41" fill="#c0c0c0"/>
<rect x="708" y="598" width="1" height="39" fill="#c0c0c0"/>
<rect x="716" y="598" width="1" height="34" fill="#c0c0c0"/>
<rect x="724" y="598" width="1" height="31" fill="#c0c0c0"/>
<rect x="732" y="598" width="1" height="24" fill="#c0c0c0"/>
<rect x="740" y="598" width="1" height="16" fill="#c0c0c0"/>
<rect x="748" y="598" width="1" height="12" fill="#c0c0c0"/>
<rect x="756" y="598" width="1" height="8" fill="#c0c0c0"/>
<rect x="764" y="598" width="1" height="2" fill="#c0c0c0"/>
<rect x="772" y="597" width="1" height="2" fill="#c0c0c0"/>
<rect x="780" y="597" width="1" height="2" fill="#c0c0c0"/>
<rect x="788" y="597" width="1" height="2" fill="#c0c0c0"/>
<rect x="796" y="598" width="1" height="2" fill="#c0c0c0"/>
<rect x="804" y="598" width="1" height="6" fill="#c0c0c0"/>
<rect x="812" y="598" width="1" height="15" fill="#c0c0c0"/>
<rect x="820" y="598" width="1" height="20" fill="#c0c0c0"/>
<rect x="828" y="598" width="1" height="27" fill="#c0c0c0"/>
<rect x="836" y="598" width="1" height="28" fill="#c0c0c0"/>
<rect x="844" y="598" width="1" height="29" fill="#c0c0c0"/>
<rect x="852" y="598" width="1" height="25" fill="#c0c0c0"/>
<rect x="860" y="598" width="1" height="22" fill="#c0c0c0"/>
<rect x="868" y="598" width="1" height="17" fill="#c0c0c0"/>
<rect x="876" y="598" width="1" height="10" fill="#c0c0c0"/>
<rect x="884" y="598" width="1" height="6" fill="#c0c0c0"/>
<rect x="900" y="592" width="1" height="7" fill="#c0c0c0"/>
<rect x="908" y="585" width="1" height="14" fill="#c0c0c0"/>
<rect x="916" y="580" width="1" height="19" fill="#c0c0c0"/>
<rect x="924" y="581" width="1" height="18" fill="#c0c0c0"/>
<rect x="932" y="580" width="1" height="19" fill="#c0c0c0"/>
<rect x="940" y="576" width="1" height="23" fill="#c0c0c0"/>
<rect x="948" y="573" width="1" height="26" fill="#c0c0c0"/>
<rect x="956" y="576" width="1" height="23" fill="#c0c0c0"/>
<rect x="964" y="578" width="1" height="21" fill="#c0c0c0"/>
<rect x="972" y="581" width="1" height="18" fill="#c0c0c0"/>
<rect x="980" y="589" width="1" height="10" fill="#c0c0c0"/>
<rect x="988" y="591" width="1" height="8" fill="#c0c0c0"/>
<rect x="996" y="592" width="1" height="7" fill="#c0c0c0"/>
<rect x="1004" y="587" width="1" height="12" fill="#c0c0c0"/>
<rect x="1012" y="584" width="1" height="15" fill="#c0c0c0"/>
<rect x="1020" y="580" width="1" height="19" fill="#c0c0c0"/>
<rect x="1028" y="579" width="1" height="20" fill="#c0c0c0"/>
<rect x="1036" y="579" width="1" height="20" fill="#c0c0c0"/>
<rect x="1044" y="574" width="1" height="25" fill="#c0c0c0"/>
<rect x="1052" y="572" width="1" height="27" fill="#c0c0c0"/>
<rect x="1060" y="571" width="1" height="28" fill="#c0c0c0"/>
<rect x="1068" y="572" width="1" height="27" fill="#c0c0c0"/>
<rect x="1076" y="577" width="1" height="22" fill="#c0c0c0"/>
<rect x="1084" y="582" width="1" height="17" fill="#c0c0c0"/>
<rect x="1092" y="590" width="1" height="9" fill="#c0c0c0"/>
<rect x="1100" y="598" width="1" height="1" fill="#c0c0c0"/>
<rect x="1108" y="598" width="1" height="10" fill="#c0c0c0"/>
<rect x="1116" y="598" width="1" height="16" fill="#c0c0c0"/>
<g>
<path d="M4 608.5h1M5 609.5h2M10 611.5h1M11 612.5h2M16 614.5h3M22 615.5h2M24 616.5h1M28 616.5h3M34 616.5h3M40 616.5h3M46 615.5h3M52 614.5h2M54 613.5h1M58 612.5h3M64 610.5h3M70 608.5h3M76 607.5h2M78 606.5h1M82 605.5h3M88 604.5h3M94 604.5h3M100 604.5h3M106 604.5h3M112 604.5h3M118 604.5h2M120 605.5h1M124 605.5h2M126 606.5h1M130 607.5h3M136 609.5h1M137 610.5h2M142 612.5h1M143 613.5h1M144 614.5h1M148 616.5h2M150 617.5h1M154 618.5h1M155 619.5h2M160 621.5h1M161 622.5h2M166 624.5h3M172 625.5h2M174 626.5h1M178 627.5h3M184 628.5h3M190 628.5h2M192 629.5h1M196 629.5h3M202 629.5h3M208 628.5h2M210 627.5h1M214 626.5h3M220 625.5h2M222 624.5h1M226 623.5h1M227 622.5h2M232 621.5h2M234 620.5h1M238 619.5h2M240 618.5h1M244 617.5h2M246 616.5h1M250 615.5h1M251 614.5h2M256 613.5h2M258 612.5h1M262 611.5h2M264 610.5h1M268 609.5h2M270 608.5h1M274 607.5h3M280 605.5h3M286 604.5h2M288 603.5h1M292 603.5h3M298 602.5h3M304 602.5h3M310 602.5h2M312 601.5h1M316 601.5h3M322 600.5h3M328 600.5h3M334 600.5h3M340 600.5h3M346 600.5h3M352 599.5h3M358 599.5h2M360 598.5h1M364 598.5h3M370 598.5h3M376 596.5h3M382 594.5h3M388 593.5h2M390 592.5h1M394 591.5h3M400 590.5h2M402 589.5h1M406 588.5h2M408 587.5h1M412 586.5h2M414 585.5h1M418 584.5h1M419 583.5h2M424 581.5h3M430 580.5h2M432 579.5h1M436 579.5h3M442 579.5h3M448 579.5h3M454 580.5h3M460 581.5h2M462 582.5h1M466 583.5h1M467 584.5h2M472 587.5h2M474 588.5h1M478 590.5h1M479 591.5h1M480 592.5h1M484 594.5h1M485 595.5h2M490 598.5h2M492 599.5h1M496 602.5h2M498 603.5h1M502 606.5h1M503 607.5h1M504 608.5h1M508 611.5h1M509 612.5h2M514 615.5h2M516 616.5h1M520 619.5h2M522 620.5h1M526 622.5h1M527 623.5h2M532 625.5h1M533 626.5h2M538 628.5h1M539 629.5h2M544 631.5h3M550 633.5h3M556 634.5h2M558 635.5h1M562 636.5h3M568 637.5h3M574 638.5h3M580 639.5h2M582 640.5h1M586 641.5h3M592 642.5h3M598 642.5h2M600 643.5h1M604 643.5h3M610 644.5h3M616 646.5h3M622 648.5h3M628 649.5h2M630 650.5h1M634 651.5h3M640 652.5h2M642 653.5h1M646 654.5h3M652 655.5h2M654 656.5h1M658 657.5h1M659 658.5h2M664 658.5h3M670 658.5h3M676 658.5h3M682 657.5h3M688 656.5h2M690 655.5h1M694 654.5h3M700 653.5h2M702 652.5h1M706 651.5h1M707 650.5h2M712 649.5h2M714 648.5h1M718 647.5h1M719 646.5h1M720 645.5h1M724 643.5h2M726 642.5h1M730 641.5h1M731 640.5h2M736 637.5h2M738 636.5h1M742 634.5h1M743 633.5h1M744 632.5h1M748 630.5h2M750 629.5h1M754 628.5h1M755 627.5h2M760 624.5h2M762 623.5h1M766 620.5h2M768 619.5h1M772 616.5h2M774 615.5h1M778 614.5h1M779 613.5h2M784 611.5h1M785 610.5h2M790 608.5h1M791 607.5h1M792 606.5h1M796 604.5h2M798 603.5h1M802 602.5h3M808 602.5h3M814 602.5h2M816 603.5h1M820 603.5h2M822 604.5h1M826 605.5h3M832 607.5h3M838 609.5h1M839 610.5h2M844 612.5h1M845 613.5h2M850 615.5h1M851 616.5h2M856 617.5h3M862 618.5h3M868 619.5h3M874 619.5h3M880 618.5h3M886 617.5h3M892 616.5h1M893 615.5h2M898 613.5h1M899 612.5h2M904 610.5h1M905 609.5h2M910 606.5h2M912 605.5h1M916 602.5h2M918 601.5h1M922 600.5h1M923 599.5h2M928 596.5h2M930 595.5h1M934 593.5h1M935 592.5h1M936 591.5h1M940 589.5h2M942 588.5h1M946 587.5h1M947 586.5h2M952 584.5h1M953 583.5h2M958 581.5h2M960 580.5h1M964 579.5h3M970 579.5h3M976 579.5h3M982 579.5h2M984 580.5h1M988 580.5h3M994 581.5h3M1000 581.5h3M1006 581.5h2M1008 582.5h1M1012 582.5h3M1018 583.5h3M1024 583.5h3M1030 583.5h2M1032 584.5h1M1036 584.5h3M1042 583.5h3M1048 581.5h3M1054 580.5h3M1060 580.5h2M1062 579.5h1M1066 578.5h1M1067 577.5h2M1072 576.5h2M1074 575.5h1M1078 575.5h3M1084 575.5h3M1090 576.5h3M1096 578.5h1M1097 579.5h2M1102 581.5h2M1104 582.5h1M1108 583.5h2M1110 584.5h1M1114 585.5h1M1115 586.5h2" fill="none" stroke="#ff0000" stroke-width="1"/>
</g>
<rect x="860" y="566" width="1" height="4" fill="#ff0000"/>
<line x1="5" y1="709.5" x2="1419" y2="709.5" stroke="#c0c0c0" stroke-width="1" stroke-dasharray="3 3"/>
<line x1="5" y1="760.5" x2="1419" y2="760.5" stroke="#c0c0c0" stroke-width="1" stroke-dasharray="3 3"/>
<g>
<path d="M4 735.5h4M8 734.5h5M13 735.5h2M15 736.5h2M17 737.5h2M19 738.5h2M21 737.5h1M22 736.5h1M23 735.5h1M24 734.5h1M25 733.5h1M26 732.5h1M27 731.5h1M28 730.5h9M37.5 731v2M38 733.5h1M39 734.5h1M40.5 735v2M41 737.5h1M42 738.5h1M43.5 739v2M44 741.5h1M45 740.5h2M47 739.5h1M48 738.5h2M50 737.5h2M52 736.5h1M53 735.5h2M55 734.5h2M57 733.5h2M59 732.5h3M62 731.5h4M66 730.5h3M69 729.5h2M71 728.5h2M73 727.5h2M75 726.5h2M77 727.5h1M78 728.5h1M79 729.5h1M80.5 730v2M81 732.5h1M82 733.5h1M83 734.5h1M84 735.5h1M85 736.5h1M86 737.5h1M87 738.5h1M88 739.5h2M90 740.5h1M91 741.5h1M92 742.5h1M93 743.5h2M95 744.5h2M97 745.5h2M99 746.5h2M101 745.5h2M103 744.5h1M104 743.5h2M106 742.5h2M108 741.5h4M112 742.5h8M120 743.5h5M125 744.5h1M126 745.5h1M127 746.5h1M128 747.5h1M129 748.5h1M130 749.5h1M131 750.5h1M132 751.5h2M134 752.5h4M138 753.5h3M141 752.5h1M142 751.5h1M143 750.5h1M144 749.5h2M146 748.5h1M147 747.5h1M148 746.5h2M150 747.5h4M154 748.5h3M157 747.5h1M158 746.5h2M160 745.5h1M161 744.5h1M162 743.5h2M164 742.5h4M168 743.5h5M173 742.5h2M175 741.5h1M176 740.5h2M178 739.5h2M180 738.5h2M182 739.5h2M184 740.5h3M187 741.5h3M190 740.5h2M192 739.5h3M195 738.5h10M205 737.5h2M207 736.5h2M209 735.5h2M211 734.5h3M214 735.5h4M218 736.5h3M221 735.5h1M222 734.5h1M223 733.5h1M224.5 731v2M225 730.5h1M226 729.5h1M227 728.5h1M228 727.5h1M229 728.5h1M230 729.5h2M232 730.5h1M233 731.5h1M234 732.5h2M236 733.5h1M237 734.5h2M239 735.5h1M240 736.5h2M242 737.5h2M244 738.5h9M253 737.5h1M254 736.5h1M255 735.5h1M256 734.5h2M258 733.5h1M259 732.5h1M260 731.5h1M261 730.5h2M263 729.5h2M265 728.5h2M267 727.5h2M269.5 728v2M270 730.5h1M271 731.5h1M272.5 732v2M273 734.5h1M274 735.5h1M275.5 736v2M276 738.5h9M285 737.5h2M287 736.5h2M289 735.5h2M291 734.5h3M294 733.5h4M298 732.5h11M309.5 733v2M310 735.5h1M311 736.5h1M312.5 737v2M313 739.5h1M314 740.5h1M315.5 741v2M316 743.5h1M317.5 741v2M318 740.5h1M319.5 738v2M320 737.5h1M321.5 735v2M322 734.5h1M323.5 732v2M324 731.5h2M326 732.5h4M330 733.5h6M336 734.5h13M349 733.5h2M351 732.5h2M353 731.5h2M355 730.5h5M360 729.5h5M365 728.5h1M366 727.5h1M367 726.5h1M368 725.5h1M369 724.5h1M370 723.5h1M371 722.5h1M372 721.5h1M373 722.5h1M374.5 723v2M375 725.5h1M376 726.5h1M377 727.5h1M378.5 728v2M379 730.5h1M380 731.5h1M381 730.5h1M382 729.5h1M383 728.5h1M384 727.5h2M386 726.5h1M387 725.5h1M388 724.5h20M408 725.5h8M416 724.5h5M421 725.5h1M422 726.5h2M424 727.5h1M425 728.5h1M426 729.5h2M428 730.5h9M437 731.5h2M439 732.5h2M441 733.5h2M443 734.5h2M445 735.5h1M446 736.5h1M447 737.5h1M448 738.5h1M449 739.5h1M450 740.5h1M451 741.5h1M452 742.5h1M453.5 743v2M454.5 745v2M455.5 747v2M456 749.5h1M457.5 750v2M458.5 752v2M459.5 754v2M460 756.5h4M464 755.5h5M469 754.5h1M470 753.5h2M472 752.5h1M473 751.5h1M474 750.5h2M476 749.5h4M480 748.5h6M486 747.5h2M488 746.5h3M491 745.5h5M496 746.5h5M501 747.5h1M502 748.5h2M504 749.5h1M505 750.5h1M506 751.5h2M508 752.5h1M509 753.5h2M511 754.5h2M513 755.5h2M515 756.5h2M517 755.5h1M518 754.5h1M519 753.5h1M520 752.5h2M522 751.5h1M523 750.5h1M524 749.5h1M525 750.5h1M526 751.5h1M527 752.5h1M528 753.5h2M530 754.5h1M531 755.5h1M532 756.5h1M533 755.5h2M535 754.5h1M536 753.5h2M538 752.5h2M540 751.5h1M541 750.5h2M543 749.5h2M545 748.5h2M547 747.5h3M550 748.5h4M554 749.5h6M560 750.5h6M566 749.5h2M568 748.5h3M571 747.5h3M574 748.5h2M576 749.5h3M579 750.5h2M581 751.5h1M582 752.5h2M584 753.5h1M585 754.5h1M586 755.5h2M588 756.5h2M590 757.5h4M594 758.5h6M600 759.5h5M605 760.5h2M607 761.5h1M608 762.5h2M610 763.5h2M612 764.5h1M613 765.5h2M615 766.5h2M617 767.5h2M619 768.5h2M621.5 766v2M622 765.5h1M623.5 763v2M624 762.5h1M625.5 760v2M626 759.5h1M627.5 757v2M628 756.5h1M629 755.5h2M631 754.5h2M633 753.5h2M635 752.5h2M637 753.5h2M639 754.5h2M641 755.5h2M643 756.5h3M646 757.5h4M650 758.5h3M653 757.5h1M654 756.5h2M656 755.5h1M657 754.5h1M658 753.5h2M660 752.5h1M661 751.5h1M662.5 749v2M663 748.5h1M664 747.5h1M665 746.5h1M666.5 744v2M667 743.5h1M668 742.5h4M672 743.5h6M678 744.5h2M680 745.5h3M683 746.5h3M686 745.5h2M688 744.5h3M691 743.5h3M694 744.5h4M698 745.5h4M702 746.5h2M704 747.5h3M707 748.5h2M709 747.5h1M710.5 745v2M711 744.5h1M712 743.5h1M713 742.5h1M714.5 740v2M715 739.5h1M716 738.5h2M718 739.5h2M720 740.5h3M723 741.5h2M725.5 739v2M726 738.5h1M727 737.5h1M728.5 735v2M729 734.5h1M730 733.5h1M731.5 731v2M732 730.5h1M733 729.5h2M735 728.5h1M736 727.5h2M738 726.5h2M740 725.5h1M741 726.5h1M742 727.5h2M744 728.5h1M745 729.5h1M746 730.5h2M748 731.5h4M752 730.5h5M757 729.5h1M758 728.5h2M760 727.5h1M761 726.5h1M762 725.5h2M764 724.5h2M766 725.5h2M768 726.5h3M771 727.5h2M773 728.5h1M774 729.5h1M775 730.5h1M776 731.5h1M777 732.5h1M778 733.5h1M779 734.5h1M780 735.5h9M789 736.5h1M790 737.5h1M791 738.5h1M792 739.5h2M794 740.5h1M795 741.5h1M796 742.5h1M797 743.5h2M799 744.5h2M801 745.5h2M803 746.5h2M805 747.5h1M806 748.5h1M807 749.5h1M808 750.5h1M809 751.5h1M810 752.5h1M811 753.5h1M812 754.5h1M813 753.5h2M815 752.5h2M817 751.5h2M819 750.5h2M821 751.5h2M823 752.5h1M824 753.5h2M826 754.5h2M828 755.5h1M829 754.5h1M830 753.5h1M831 752.5h1M832.5 750v2M833 749.5h1M834 748.5h1M835 747.5h1M836 746.5h4M840 745.5h5M845 744.5h1M846 743.5h1M847 742.5h1M848 741.5h1M849 740.5h1M850 739.5h1M851 738.5h1M852 737.5h2M854 736.5h4M858 735.5h3M861 734.5h2M863 733.5h2M865 732.5h2M867 731.5h2M869 730.5h2M871 729.5h2M873 728.5h2M875 727.5h5M880 728.5h5M885 727.5h2M887 726.5h2M889 725.5h2M891 724.5h2M893 723.5h2M895 722.5h1M896 721.5h2M898 720.5h2M900 719.5h2M902 718.5h2M904 717.5h3M907 716.5h10M917.5 717v2M918.5 719v2M919.5 721v2M920.5 723v2M921.5 725v2M922.5 727v2M923.5 729v2M924.5 731v2M925 731.5h1M926 730.5h2M928 729.5h1M929 728.5h1M930 727.5h2M932 726.5h1M933 725.5h1M934 724.5h2M936 723.5h1M937 722.5h1M938 721.5h2M940 720.5h4M944 721.5h5M949.5 722v2M950 724.5h1M951 725.5h1M952.5 726v2M953 728.5h1M954 729.5h1M955.5 730v2M956 732.5h10M966 733.5h4M970 734.5h3M973 735.5h1M974.5 736v2M975 738.5h1M976 739.5h1M977 740.5h1M978.5 741v2M979 743.5h1M980 744.5h1M981 743.5h1M982 742.5h1M983 741.5h1M984 740.5h2M986 739.5h1M987 738.5h1M988 737.5h1M989 736.5h2M991 735.5h2M993 734.5h2M995 733.5h2M997 732.5h1M998 731.5h1M999 730.5h1M1000.5 728v2M1001 727.5h1M1002 726.5h1M1003 725.5h1M1004 724.5h4M1008 725.5h6M1014 724.5h2M1016 723.5h3M1019 722.5h2M1021 723.5h2M1023 724.5h1M1024 725.5h2M1026 726.5h2M1028 727.5h2M1030 728.5h4M1034 729.5h3M1037 728.5h1M1038.5 726v2M1039 725.5h1M1040 724.5h1M1041 723.5h1M1042.5 721v2M1043 720.5h1M1044 719.5h1M1045 720.5h1M1046 721.5h2M1048 722.5h1M1049 723.5h1M1050 724.5h2M1052 725.5h10M1062 726.5h2M1064 727.5h3M1067 728.5h2M1069 729.5h1M1070 730.5h2M1072 731.5h1M1073 732.5h1M1074 733.5h2M1076 734.5h1M1077 735.5h2M1079 736.5h1M1080 737.5h2M1082 738.5h2M1084 739.5h1M1085 740.5h2M1087 741.5h1M1088 742.5h2M1090 743.5h2M1092 744.5h1M1093 745.5h1M1094 746.5h1M1095 747.5h1M1096 748.5h1M1097 749.5h1M1098 750.5h1M1099 751.5h1M1100 752.5h10M1110 751.5h4M1114 750.5h3" fill="none" stroke="#1e90ff" stroke-width="1"/>
</g>
<rect x="3" y="23" width="1417" height="1" fill="#000000"/>
<rect x="3" y="562" width="1418" height="1" fill="#000000"/>
<rect x="3" y="564" width="1418" height="1" fill="#000000"/>
<rect x="3" y="667" width="1418" height="1" fill="#000000"/>
<rect x="3" y="669" width="1418" height="1" fill="#000000"/>
<rect x="3" y="799" width="1418" height="1" fill="#000000"/>
<rect x="3" y="23" width="1" height="540" fill="#000000"/>
<rect x="3" y="564" width="1" height="104" fill="#000000"/>
<rect x="3" y="669" width="1" height="131" fill="#000000"/>
<rect x="1419" y="23" width="1" height="777" fill="#000000"/>
<polygon points="1129,24 1140,24 1134.5,29" fill="#c0c0c0"/>
<polygon points="6.8,34.2 14.2,34.2 10.5,29.8" fill="#000" shape-rendering="auto"/>
<rect x="1420" y="31" width="2" height="1" fill="#000000"/>
<rect x="1420" y="64" width="2" height="1" fill="#000000"/>
<rect x="1420" y="97" width="2" height="1" fill="#000000"/>
<rect x="1420" y="130" width="2" height="1" fill="#000000"/>
<rect x="1420" y="163" width="2" height="1" fill="#000000"/>
<rect x="1420" y="196" width="2" height="1" fill="#000000"/>
<rect x="1420" y="229" width="2" height="1" fill="#000000"/>
<rect x="1420" y="262" width="2" height="1" fill="#000000"/>
<rect x="1420" y="295" width="2" height="1" fill="#000000"/>
<rect x="1420" y="328" width="2" height="1" fill="#000000"/>
<rect x="1420" y="361" width="2" height="1" fill="#000000"/>
<rect x="1420" y="394" width="2" height="1" fill="#000000"/>
<rect x="1420" y="427" width="2" height="1" fill="#000000"/>
<rect x="1420" y="460" width="2" height="1" fill="#000000"/>
<rect x="1420" y="493" width="2" height="1" fill="#000000"/>
<rect x="1420" y="526" width="2" height="1" fill="#000000"/>
<rect x="1420" y="559" width="2" height="1" fill="#000000"/>
<rect x="1420" y="598" width="2" height="1" fill="#000000"/>
<rect x="4" y="800" width="1" height="3" fill="#000000"/>
<rect x="68" y="800" width="1" height="3" fill="#000000"/>
<rect x="132" y="800" width="1" height="3" fill="#000000"/>
<rect x="196" y="800" width="1" height="3" fill="#000000"/>
<rect x="260" y="800" width="1" height="3" fill="#000000"/>
<rect x="324" y="800" width="1" height="3" fill="#000000"/>
<rect x="388" y="800" width="1" height="3" fill="#000000"/>
<rect x="452" y="800" width="1" height="3" fill="#000000"/>
<rect x="516" y="800" width="1" height="3" fill="#000000"/>
<rect x="580" y="800" width="1" height="3" fill="#000000"/>
<rect x="644" y="800" width="1" height="3" fill="#000000"/>
<rect x="708" y="800" width="1" height="3" fill="#000000"/>
<rect x="772" y="800" width="1" height="3" fill="#000000"/>
<rect x="836" y="800" width="1" height="3" fill="#000000"/>
<rect x="900" y="800" width="1" height="3" fill="#000000"/>
<rect x="964" y="800" width="1" height="3" fill="#000000"/>
<rect x="1028" y="800" width="1" height="3" fill="#000000"/>
<rect x="1092" y="800" width="1" height="3" fill="#000000"/>
</svg>
<div class="t"  style="left:1425px;top:28.00px;font-size:10px;line-height:10px;letter-spacing:-0.5px;color:#000">0.72200</div>
<div class="t"  style="left:1425px;top:61.00px;font-size:10px;line-height:10px;letter-spacing:-0.5px;color:#000">0.71950</div>
<div class="t"  style="left:1425px;top:94.00px;font-size:10px;line-height:10px;letter-spacing:-0.5px;color:#000">0.71705</div>
<div class="t"  style="left:1425px;top:127.00px;font-size:10px;line-height:10px;letter-spacing:-0.5px;color:#000">0.71455</div>
<div class="t"  style="left:1425px;top:160.00px;font-size:10px;line-height:10px;letter-spacing:-0.5px;color:#000">0.71205</div>
<div class="t"  style="left:1425px;top:193.00px;font-size:10px;line-height:10px;letter-spacing:-0.5px;color:#000">0.70960</div>
<div class="t"  style="left:1425px;top:226.00px;font-size:10px;line-height:10px;letter-spacing:-0.5px;color:#000">0.70710</div>
<div class="t"  style="left:1425px;top:259.01px;font-size:10px;line-height:10px;letter-spacing:-0.5px;color:#000">0.70460</div>
<div class="t"  style="left:1425px;top:292.01px;font-size:10px;line-height:10px;letter-spacing:-0.5px;color:#000">0.70215</div>
<div class="t"  style="left:1425px;top:325.01px;font-size:10px;line-height:10px;letter-spacing:-0.5px;color:#000">0.69965</div>
<div class="t"  style="left:1425px;top:358.01px;font-size:10px;line-height:10px;letter-spacing:-0.5px;color:#000">0.69715</div>
<div class="t"  style="left:1425px;top:391.01px;font-size:10px;line-height:10px;letter-spacing:-0.5px;color:#000">0.69470</div>
<div class="t"  style="left:1425px;top:457.01px;font-size:10px;line-height:10px;letter-spacing:-0.5px;color:#000">0.68970</div>
<div class="t"  style="left:1425px;top:490.01px;font-size:10px;line-height:10px;letter-spacing:-0.5px;color:#000">0.68725</div>
<div class="t"  style="left:1425px;top:523.00px;font-size:10px;line-height:10px;letter-spacing:-0.5px;color:#000">0.68475</div>
<div class="t"  style="left:1425px;top:556.00px;font-size:10px;line-height:10px;letter-spacing:-0.5px;color:#000">0.68230</div>
<div class="t"  style="left:1423px;top:568.00px;font-size:10px;line-height:10px;letter-spacing:-0.5px;color:#000">0.002522</div>
<div class="t"  style="left:1423px;top:595.00px;font-size:10px;line-height:10px;letter-spacing:-0.5px;color:#000">0.00</div>
<div class="t"  style="left:1423px;top:657.00px;font-size:10px;line-height:10px;letter-spacing:-0.5px;color:#000">-0.00523</div>
<div class="t"  style="left:1423px;top:673.00px;font-size:10px;line-height:10px;letter-spacing:-0.5px;color:#000">100</div>
<div class="t"  style="left:1423px;top:706.00px;font-size:10px;line-height:10px;letter-spacing:-0.5px;color:#000">70</div>
<div class="t"  style="left:1423px;top:757.00px;font-size:10px;line-height:10px;letter-spacing:-0.5px;color:#000">30</div>
<div class="t"  style="left:1423px;top:789.00px;font-size:10px;line-height:10px;letter-spacing:-0.5px;color:#000">0</div>
<div style="position:absolute;left:1421px;top:51px;width:38px;height:11px;background:#ff0000"></div>
<div class="t"  style="left:1425px;top:53.00px;font-size:10px;line-height:10px;letter-spacing:-0.5px;color:#fff">0.72005</div>
<div style="position:absolute;left:1421px;top:184px;width:38px;height:11px;background:#ff0000"></div>
<div class="t"  style="left:1425px;top:186.00px;font-size:10px;line-height:10px;letter-spacing:-0.5px;color:#fff">0.71005</div>
<div style="position:absolute;left:1421px;top:317px;width:38px;height:11px;background:#00ff00"></div>
<div class="t"  style="left:1425px;top:319.01px;font-size:10px;line-height:10px;letter-spacing:-0.5px;color:#fff">0.70002</div>
<div style="position:absolute;left:1421px;top:423px;width:38px;height:11px;background:#0000ff"></div>
<div class="t"  style="left:1425px;top:425.01px;font-size:10px;line-height:10px;letter-spacing:-0.5px;color:#fff">0.69204</div>
<div style="position:absolute;left:1421px;top:544px;width:38px;height:11px;background:#0000ff"></div>
<div class="t"  style="left:1425px;top:546.00px;font-size:10px;line-height:10px;letter-spacing:-0.5px;color:#fff">0.68300</div>
<div style="position:absolute;left:1421px;top:439px;width:38px;height:11px;background:#000000"></div>
<div class="t"  style="left:1425px;top:441.01px;font-size:10px;line-height:10px;letter-spacing:-0.5px;color:#fff">0.69092</div>
<div class="t"  style="left:3px;top:805.00px;font-size:10px;line-height:10px;letter-spacing:-0.42px;color:#000">15 Feb 2019</div>
<div class="t"  style="left:67px;top:805.00px;font-size:10px;line-height:10px;letter-spacing:-0.42px;color:#000">25 Feb 2019</div>
<div class="t"  style="left:131px;top:805.00px;font-size:10px;line-height:10px;letter-spacing:-0.42px;color:#000">6 <span style="letter-spacing:-0.09px">Mar</span> 2019</div>
<div class="t"  style="left:195px;top:805.00px;font-size:10px;line-height:10px;letter-spacing:-0.42px;color:#000">15 <span style="letter-spacing:-0.09px">Mar</span> 2019</div>
<div class="t"  style="left:259px;top:805.00px;font-size:10px;line-height:10px;letter-spacing:-0.42px;color:#000">25 <span style="letter-spacing:-0.09px">Mar</span> 2019</div>
<div class="t"  style="left:323px;top:805.00px;font-size:10px;line-height:10px;letter-spacing:-0.42px;color:#000">3 <span style="letter-spacing:0.13px">Apr</span> 2019</div>
<div class="t"  style="left:387px;top:805.00px;font-size:10px;line-height:10px;letter-spacing:-0.42px;color:#000">12 <span style="letter-spacing:0.13px">Apr</span> 2019</div>
<div class="t"  style="left:451px;top:805.00px;font-size:10px;line-height:10px;letter-spacing:-0.42px;color:#000">23 <span style="letter-spacing:0.13px">Apr</span> 2019</div>
<div class="t"  style="left:515px;top:805.00px;font-size:10px;line-height:10px;letter-spacing:-0.42px;color:#000">2 <span style="letter-spacing:0.28px">May</span> 2019</div>
<div class="t"  style="left:579px;top:805.00px;font-size:10px;line-height:10px;letter-spacing:-0.42px;color:#000">12 <span style="letter-spacing:0.28px">May</span> 2019</div>
<div class="t"  style="left:643px;top:805.00px;font-size:10px;line-height:10px;letter-spacing:-0.42px;color:#000">21 <span style="letter-spacing:0.28px">May</span> 2019</div>
<div class="t"  style="left:707px;top:805.00px;font-size:10px;line-height:10px;letter-spacing:-0.42px;color:#000">30 <span style="letter-spacing:0.28px">May</span> 2019</div>
<div class="t"  style="left:771px;top:805.00px;font-size:10px;line-height:10px;letter-spacing:-0.42px;color:#000">9 Jun 2019</div>
<div class="t"  style="left:835px;top:805.00px;font-size:10px;line-height:10px;letter-spacing:-0.42px;color:#000">18 Jun 2019</div>
<div class="t"  style="left:899px;top:805.00px;font-size:10px;line-height:10px;letter-spacing:-0.42px;color:#000">27 Jun 2019</div>
<div class="t"  style="left:963px;top:805.00px;font-size:10px;line-height:10px;letter-spacing:-0.42px;color:#000">7 Jul 2019</div>
<div class="t"  style="left:1027px;top:805.00px;font-size:10px;line-height:10px;letter-spacing:-0.42px;color:#000">16 Jul 2019</div>
<div class="t"  style="left:1091px;top:805.00px;font-size:10px;line-height:10px;letter-spacing:-0.42px;color:#000">25 Jul 2019</div>
<div class="t"  style="left:19.5px;top:28.00px;font-size:10px;line-height:10px;letter-spacing:-0.2px;color:#000">AUDUSD-,Daily</div>
<div class="t" id="tnum" style="left:94.3px;top:28.00px;font-size:10px;line-height:10px;letter-spacing:-0.4px;color:#000">0.69056 0.69103 0.69023 0.69092</div>
<div class="t"  style="left:8px;top:570.00px;font-size:10px;line-height:10px;letter-spacing:-0.3px;color:#000">MACD(12,26,9) -0.001190 0.000900</div>
<div class="t"  style="left:8px;top:675.00px;font-size:10px;line-height:10px;letter-spacing:-0.4px;color:#000">RSI(14) 38.1962</div>

<div id="tp">
 <div style="position:absolute;left:5px;top:40px;width:223px;height:69px;background:#fff"></div>
 <div class="pr" style="left:7px;top:67px;width:109px;height:40px"></div>
 <div class="pr" style="left:118px;top:67px;width:108px;height:40px"></div>
 <div class="bt" style="left:7px;top:43px;width:52px;height:25px"></div>
 <div class="bt" style="left:174px;top:43px;width:52px;height:25px"></div>
 <div class="ul" style="left:11px;top:66px;width:44px"></div>
 <div class="ul" style="left:178px;top:66px;width:44px"></div>
 <div style="position:absolute;left:59px;top:43px;width:115px;height:24px;background:#fff"></div>
 <div style="position:absolute;left:61px;top:43px;width:111px;height:22px;background:#fff;border:1px solid #abadb3;box-sizing:border-box"></div>
 <div class="sp" style="left:62px;top:44px;width:21px;height:20px"></div>
 <div class="sp" style="left:151px;top:44px;width:20px;height:20px"></div>
 <div style="position:absolute;left:83px;top:44px;width:1px;height:20px;background:#b4b6bc"></div>
 <div style="position:absolute;left:150px;top:44px;width:1px;height:20px;background:#b4b6bc"></div>
 <svg style="position:absolute;left:62px;top:44px" width="110" height="19"><polygon points="6.5,8 11.5,8 9,10.8" fill="#5060b8"/><polygon points="95.5,10.8 101.5,10.8 98.5,7.8" fill="#5060b8"/></svg>
 <div class="t" style="left:123.5px;top:47.5px;font-size:12px;line-height:12px;color:#000;letter-spacing:-0.35px">1.00</div>
 <div class="t" style="left:19px;top:49px;font-size:12px;line-height:12px;color:#fff;letter-spacing:-0.7px">SELL</div>
 <div class="t" style="left:187.5px;top:49px;font-size:12px;line-height:12px;color:#fff;letter-spacing:-0.2px">BUY</div>
 <div class="t" style="left:27px;top:88.3px;font-size:12px;line-height:12px;color:#fff;font-weight:bold;letter-spacing:0.2px">0.69</div>
 <div class="t" style="left:137px;top:88.3px;font-size:12px;line-height:12px;color:#fff;font-weight:bold;letter-spacing:0.2px">0.69</div>
 <div class="t big" style="left:54px;top:66px">09</div>
 <div class="t big" style="left:165.5px;top:66px;letter-spacing:0.5px">11</div>
 <div class="t" style="left:94px;top:72px;font-size:12px;line-height:12px;color:#fff;font-weight:bold">2</div>
 <div class="t" style="left:205.5px;top:72px;font-size:12px;line-height:12px;color:#fff;font-weight:bold">1</div>
</div>

<div style="position:absolute;left:0;top:820px;width:1459px;height:1px;background:#e3e3e3"></div><div style="position:absolute;left:0;top:822px;width:1459px;height:21px;background:#f0f0f0"></div><div style="position:absolute;left:0;top:822px;width:1459px;height:1px;background:#000"></div><div style="position:absolute;left:0;top:822px;width:2px;height:19px;background:#696969"></div><div style="position:absolute;left:0;top:842px;width:1459px;height:1px;background:#fafafa"></div><div style="position:absolute;left:2px;top:823px;width:111px;height:1px;background:#fff"></div><div style="position:absolute;left:112px;top:823px;width:1px;height:18px;background:#fff"></div><div style="position:absolute;left:113px;top:822px;width:106px;height:18px;background:#fff;border:1px solid #000;border-top:none"></div><div class="t" style="left:16px;top:826px;font-size:12px;line-height:14px;color:#808080;letter-spacing:-0.1px">EURUSD-,Daily</div><div class="t" style="left:123px;top:826px;font-size:12px;line-height:14px;color:#000;letter-spacing:0.05px">AUDUSD-,Daily</div><div class="t" style="left:233px;top:826px;font-size:12px;line-height:14px;color:#808080;letter-spacing:0px">USDCHF-,Daily</div><div class="t" style="left:340.5px;top:826px;font-size:12px;line-height:14px;color:#808080;letter-spacing:0.1px">USDCAD-,Daily</div><div class="t" style="left:449px;top:826px;font-size:12px;line-height:14px;color:#808080;letter-spacing:0.23px">USDCNH-,H4</div><div class="t" style="left:548px;top:826px;font-size:12px;line-height:14px;color:#808080;letter-spacing:0.06px">EURCHF-,Weekly</div><div class="t" style="left:669px;top:826px;font-size:12px;line-height:14px;color:#808080;letter-spacing:0.23px">XAUUSD-,Weekly</div><div class="t" style="left:792px;top:826px;font-size:12px;line-height:14px;color:#808080;letter-spacing:-0.03px">GBPUSD-,H1</div><div class="t" style="left:888.5px;top:826px;font-size:12px;line-height:14px;color:#808080;letter-spacing:0.27px">UKOil-,H1</div><div class="t" style="left:967.5px;top:826px;font-size:12px;line-height:14px;color:#808080;letter-spacing:0.17px">USDX-,Weekly</div><div style="position:absolute;left:329px;top:825px;width:1px;height:14px;background:#808080"></div><div style="position:absolute;left:437px;top:825px;width:1px;height:14px;background:#808080"></div><div style="position:absolute;left:537px;top:825px;width:1px;height:14px;background:#808080"></div><div style="position:absolute;left:657px;top:825px;width:1px;height:14px;background:#808080"></div><div style="position:absolute;left:781px;top:825px;width:1px;height:14px;background:#808080"></div><div style="position:absolute;left:877px;top:825px;width:1px;height:14px;background:#808080"></div><div style="position:absolute;left:957px;top:825px;width:1px;height:14px;background:#808080"></div><div style="position:absolute;left:1061px;top:825px;width:1px;height:14px;background:#808080"></div><svg style="position:absolute;left:1430px;top:826px" width="29" height="12"><polygon points="8,2 8,9 5,5.5" fill="#a0a0a0"/><polygon points="24,2 24,9 27.5,5.5" fill="#a0a0a0"/></svg>
</body></html>
